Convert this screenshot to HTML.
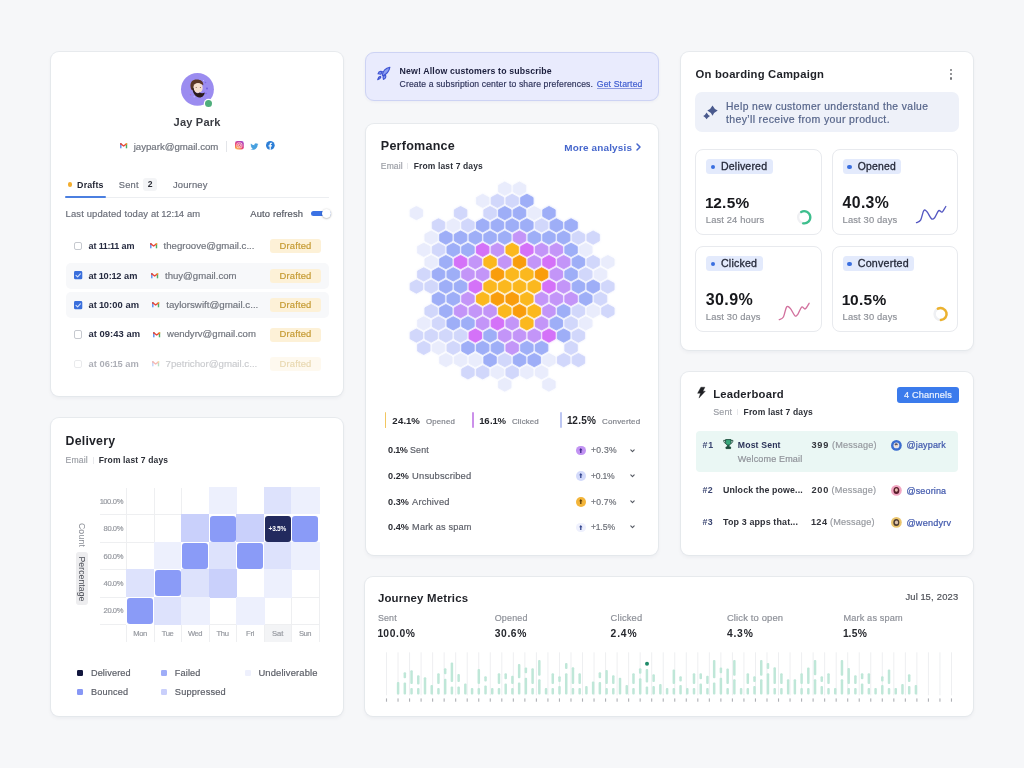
<!DOCTYPE html>
<html><head><meta charset="utf-8"><title>Dashboard</title><style>
html,body{margin:0;padding:0}
body{width:1024px;height:768px;background:#f6f7f9;position:relative;overflow:hidden;font-family:"Liberation Sans",Arial,sans-serif}
.card{position:absolute;background:#fff;border-radius:8px;box-shadow:0 0 0 1px rgba(226,229,234,.75),0 2px 4px rgba(25,35,60,.06)}
.t{position:absolute;white-space:pre;line-height:1}
.n1{margin:0 -0.05em}
.r{-webkit-text-stroke-width:0.18px}
svg{overflow:visible}
</style></head><body>
<div class="card" style="left:51px;top:52px;width:292px;height:344px;"></div>
<div class="card" style="left:51px;top:418px;width:292px;height:298px;"></div>
<div class="card" style="left:366px;top:124px;width:292px;height:431px;"></div>
<div class="card" style="left:681px;top:52px;width:292px;height:298px;"></div>
<div class="card" style="left:681px;top:372px;width:292px;height:183px;"></div>
<div class="card" style="left:365px;top:577px;width:608px;height:139px;"></div>
<div style="position:absolute;left:365px;top:52px;width:294px;height:49px;box-sizing:border-box;background:#e9ebfd;border:1px solid #cdd3f4;border-radius:9px;box-shadow:0 1px 3px rgba(60,70,160,.06)"></div>
<svg style="position:absolute;left:181.00px;top:73.00px;" width="33" height="33" viewBox="0 0 33 33">
<defs><clipPath id="avc"><circle cx="16.45" cy="16.35" r="16.45"/></clipPath></defs>
<circle cx="16.45" cy="16.35" r="16.45" fill="#9b8cf0"/>
<g clip-path="url(#avc)">
<circle cx="24.5" cy="9.5" r="0.8" fill="#7f6ce6"/><circle cx="26" cy="15.5" r="0.9" fill="#6f5cdc"/>
<circle cx="9.6" cy="21.8" r="0.8" fill="#b06fc8"/><circle cx="13.2" cy="23.8" r="0.7" fill="#c8bcff"/>
<circle cx="25" cy="20.5" r="0.8" fill="#7f6ce6"/><circle cx="22.5" cy="7.6" r="0.6" fill="#c8bcff"/>
<path d="M9.6 14.2 C8.8 9 11.8 6.6 15.6 6.6 C19.6 6.5 22.6 8.6 22.3 12.2 L20.8 11.4 C18.8 10.2 15.2 10.6 13.2 12.2 L12.2 17.6 L10.2 16.6 Z" fill="#5a3626"/>
<ellipse cx="17.0" cy="14.9" rx="4.7" ry="5.0" fill="#f4dece"/>
<path d="M11.4 14.8 C11.6 19.6 13.8 23.6 18 24.4 C21.2 24.8 23.4 22.2 23.8 19.4 C22.2 20.5 20.2 20.4 18.7 19.5 C17.5 20.5 15.4 20.4 14.3 19 C13.3 17.9 12.8 16.4 12.6 14.8 Z" fill="#2b1b1b"/>
<circle cx="15.2" cy="14.6" r="0.5" fill="#6b4a3a"/><circle cx="19.4" cy="14.6" r="0.5" fill="#6b4a3a"/>
</g></svg>
<div style="position:absolute;left:204.5px;top:99.5px;width:7.4px;height:7.4px;border-radius:50%;background:#4fae7c;box-shadow:0 0 0 1.2px #fff"></div>
<div class="t" style="left:173.55px;top:117px;font-size:11.06px;letter-spacing:0.199px;font-weight:700;color:#3a3c43;">Jay Park</div>
<svg style="position:absolute;left:120.40px;top:143.30px;" width="7.3" height="5.3" viewBox="0 0 7.3 5.3"><g opacity="1">
<rect x="0.1" y="0.5" width="1.4" height="4.8" fill="#5b8def"/>
<rect x="5.8" y="0.5" width="1.4" height="4.8" fill="#4caf6a"/>
<path d="M0.8 0.9 L3.65 3.0 L6.5 0.9" stroke="#e8493c" stroke-width="1.35" fill="none" stroke-linejoin="round" stroke-linecap="round"/>
<rect x="5.8" y="0.2" width="1.4" height="1.4" rx="0.4" fill="#f6bf26"/>
<rect x="0.1" y="0.2" width="1.4" height="1.3" rx="0.4" fill="#d23f31"/></g></svg>
<div class="t r" style="left:133.70px;top:142px;font-size:9.65px;color:#6f737c;">jaypark@gmail.com</div>
<div style="position:absolute;left:226.00px;top:140.50px;width:1.00px;height:11.00px;background:#e3e5e9;border-radius:0px;"></div>
<svg style="position:absolute;left:234.90px;top:141.30px;" width="8.8" height="8.6" viewBox="0 0 8.8 8.6"><defs><radialGradient id="ig" cx="0.15" cy="1.05" r="1.25">
<stop offset="0" stop-color="#fdd36a"/><stop offset=".3" stop-color="#f8864a"/><stop offset=".6" stop-color="#e9437c"/><stop offset="1" stop-color="#9b45cf"/></radialGradient></defs>
<rect x="0" y="0" width="8.8" height="8.6" rx="2.4" fill="url(#ig)"/>
<rect x="1.9" y="1.85" width="5.0" height="4.9" rx="1.5" fill="none" stroke="#fff" stroke-opacity=".75" stroke-width="0.85"/>
<circle cx="4.4" cy="4.3" r="1.2" fill="none" stroke="#fff" stroke-opacity=".75" stroke-width="0.85"/>
<circle cx="6.2" cy="2.6" r="0.4" fill="#fff" fill-opacity=".8"/></svg>
<svg style="position:absolute;left:250.40px;top:142.60px;" width="8.6" height="7.1" viewBox="0 2 24 20"><path fill="#47a0df" d="M23.643 4.937c-.835.37-1.732.62-2.675.733.962-.576 1.7-1.49 2.048-2.578-.9.534-1.897.922-2.958 1.13-.85-.904-2.06-1.47-3.4-1.47-2.572 0-4.658 2.086-4.658 4.66 0 .364.042.718.12 1.06-3.873-.195-7.304-2.05-9.602-4.868-.4.69-.63 1.49-.63 2.342 0 1.616.823 3.043 2.072 3.878-.764-.025-1.482-.234-2.11-.583v.06c0 2.257 1.605 4.14 3.737 4.568-.392.106-.803.162-1.227.162-.3 0-.593-.028-.877-.082.593 1.85 2.313 3.198 4.352 3.234-1.595 1.25-3.604 1.995-5.786 1.995-.376 0-.747-.022-1.112-.065 2.062 1.323 4.51 2.093 7.14 2.093 8.57 0 13.255-7.098 13.255-13.254 0-.2-.005-.402-.014-.602.91-.658 1.7-1.477 2.323-2.41z"/></svg>
<svg style="position:absolute;left:265.70px;top:141.40px;" width="8.7" height="8.7" viewBox="0 0 24 24"><circle cx="12" cy="12" r="12" fill="#2c7ed6"/><path fill="#fff" d="M13.4 24V15.2h2.95l.45-3.45h-3.4V9.55c0-1 .28-1.68 1.7-1.68h1.8V4.8c-.31-.04-1.38-.13-2.63-.13-2.6 0-4.38 1.59-4.38 4.5v2.58H6.95v3.45h2.94V24z"/></svg>
<div style="position:absolute;left:67.6px;top:182.2px;width:4.8px;height:4.8px;border-radius:50%;background:#f3ad2e"></div>
<div class="t" style="left:77.10px;top:181px;font-size:8.86px;letter-spacing:0.159px;font-weight:700;color:#1f2230;">Drafts</div>
<div class="t r" style="left:118.80px;top:181px;font-size:9.29px;letter-spacing:0.196px;color:#6b6f7a;">Sent</div>
<div style="position:absolute;left:143.40px;top:178.30px;width:13.70px;height:12.70px;background:#f3f4f6;border-radius:3px;"></div>
<div class="t" style="left:147.85px;top:180px;font-size:8.60px;font-weight:700;color:#2c2f38;">2</div>
<div class="t r" style="left:172.90px;top:180px;font-size:9.43px;letter-spacing:0.175px;color:#6b6f7a;">Journey</div>
<div style="position:absolute;left:65.20px;top:196.60px;width:263.80px;height:1.00px;background:#eceef1;border-radius:0px;"></div>
<div style="position:absolute;left:65.20px;top:195.80px;width:41.00px;height:2.20px;background:#4b7fe0;border-radius:1px;"></div>
<div class="t r" style="left:65.60px;top:209px;font-size:9.42px;letter-spacing:0.141px;color:#6b6f7a;">Last updated today at <span class="n1">1</span>2:<span class="n1">1</span>4 am</div>
<div class="t r" style="left:250.30px;top:210px;font-size:9.38px;letter-spacing:0.146px;color:#545862;">Auto refresh</div>
<div style="position:absolute;left:311.00px;top:211.40px;width:20.00px;height:4.80px;background:#3b72e4;border-radius:3px;"></div>
<div style="position:absolute;left:321.8px;top:209.1px;width:9.2px;height:9.2px;border-radius:50%;background:#fff;box-shadow:0 0.5px 2px rgba(0,0,0,.35)"></div>
<div style="opacity:1">
<div style="position:absolute;left:73.9px;top:242.05px;width:8.4px;height:8.4px;box-sizing:border-box;border:1px solid #c6c9cf;border-radius:2px;background:#fff"></div>
<div class="t" style="left:88.40px;top:242px;font-size:9.04px;letter-spacing:0.046px;font-weight:700;color:#262b40;">at <span class="n1">1</span><span class="n1">1</span>:<span class="n1">1</span><span class="n1">1</span> am</div>
<svg style="position:absolute;left:149.60px;top:243.30px;" width="7.3" height="5.3" viewBox="0 0 7.3 5.3"><g opacity="1">
<rect x="0.1" y="0.5" width="1.4" height="4.8" fill="#5b8def"/>
<rect x="5.8" y="0.5" width="1.4" height="4.8" fill="#4caf6a"/>
<path d="M0.8 0.9 L3.65 3.0 L6.5 0.9" stroke="#e8493c" stroke-width="1.35" fill="none" stroke-linejoin="round" stroke-linecap="round"/>
<rect x="5.8" y="0.2" width="1.4" height="1.4" rx="0.4" fill="#f6bf26"/>
<rect x="0.1" y="0.2" width="1.4" height="1.3" rx="0.4" fill="#d23f31"/></g></svg>
<div class="t r" style="left:163.60px;top:241px;font-size:9.60px;color:#71757e;">thegroove@gmail.c...</div>
<div style="position:absolute;left:270.30px;top:239.15px;width:50.30px;height:14.20px;background:#fdf1d7;border-radius:3px;"></div>
<div class="t r" style="left:279.50px;top:241px;font-size:9.41px;letter-spacing:0.157px;color:#c59a32;">Drafted</div>
</div>
<div style="position:absolute;left:66.00px;top:262.85px;width:263.00px;height:26.00px;background:#f7f8fa;border-radius:5px;"></div>
<div style="opacity:1">
<svg style="position:absolute;left:73.90px;top:271.45px;" width="8.3" height="8.3" viewBox="0 0 8.3 8.3"><rect x="0" y="0" width="8.3" height="8.3" rx="1.4" fill="#3a6fdc"/><path d="M2 4.3 L3.6 5.8 L6.4 2.8" stroke="#d6e4ff" stroke-width="1.1" fill="none" stroke-linecap="round" stroke-linejoin="round"/></svg>
<div class="t" style="left:88.40px;top:272px;font-size:9.22px;letter-spacing:0.051px;font-weight:700;color:#262b40;">at <span class="n1">1</span>0:<span class="n1">1</span>2 am</div>
<svg style="position:absolute;left:150.90px;top:272.80px;" width="7.3" height="5.3" viewBox="0 0 7.3 5.3"><g opacity="1">
<rect x="0.1" y="0.5" width="1.4" height="4.8" fill="#5b8def"/>
<rect x="5.8" y="0.5" width="1.4" height="4.8" fill="#4caf6a"/>
<path d="M0.8 0.9 L3.65 3.0 L6.5 0.9" stroke="#e8493c" stroke-width="1.35" fill="none" stroke-linejoin="round" stroke-linecap="round"/>
<rect x="5.8" y="0.2" width="1.4" height="1.4" rx="0.4" fill="#f6bf26"/>
<rect x="0.1" y="0.2" width="1.4" height="1.3" rx="0.4" fill="#d23f31"/></g></svg>
<div class="t r" style="left:165.00px;top:271px;font-size:9.58px;color:#71757e;">thuy@gmail.com</div>
<div style="position:absolute;left:270.30px;top:268.65px;width:50.30px;height:14.20px;background:#fdf1d7;border-radius:3px;"></div>
<div class="t r" style="left:279.50px;top:271px;font-size:9.41px;letter-spacing:0.157px;color:#c59a32;">Drafted</div>
</div>
<div style="position:absolute;left:66.00px;top:292.35px;width:263.00px;height:26.00px;background:#f7f8fa;border-radius:5px;"></div>
<div style="opacity:1">
<svg style="position:absolute;left:73.90px;top:300.95px;" width="8.3" height="8.3" viewBox="0 0 8.3 8.3"><rect x="0" y="0" width="8.3" height="8.3" rx="1.4" fill="#3a6fdc"/><path d="M2 4.3 L3.6 5.8 L6.4 2.8" stroke="#d6e4ff" stroke-width="1.1" fill="none" stroke-linecap="round" stroke-linejoin="round"/></svg>
<div class="t" style="left:88.40px;top:300px;font-size:9.40px;letter-spacing:0.053px;font-weight:700;color:#262b40;">at <span class="n1">1</span>0:00 am</div>
<svg style="position:absolute;left:151.90px;top:302.30px;" width="7.3" height="5.3" viewBox="0 0 7.3 5.3"><g opacity="1">
<rect x="0.1" y="0.5" width="1.4" height="4.8" fill="#5b8def"/>
<rect x="5.8" y="0.5" width="1.4" height="4.8" fill="#4caf6a"/>
<path d="M0.8 0.9 L3.65 3.0 L6.5 0.9" stroke="#e8493c" stroke-width="1.35" fill="none" stroke-linejoin="round" stroke-linecap="round"/>
<rect x="5.8" y="0.2" width="1.4" height="1.4" rx="0.4" fill="#f6bf26"/>
<rect x="0.1" y="0.2" width="1.4" height="1.3" rx="0.4" fill="#d23f31"/></g></svg>
<div class="t r" style="left:166.20px;top:300px;font-size:9.74px;color:#71757e;">taylorswift@gmail.c...</div>
<div style="position:absolute;left:270.30px;top:298.15px;width:50.30px;height:14.20px;background:#fdf1d7;border-radius:3px;"></div>
<div class="t r" style="left:279.50px;top:300px;font-size:9.41px;letter-spacing:0.157px;color:#c59a32;">Drafted</div>
</div>
<div style="opacity:1">
<div style="position:absolute;left:73.9px;top:330.45px;width:8.4px;height:8.4px;box-sizing:border-box;border:1px solid #c6c9cf;border-radius:2px;background:#fff"></div>
<div class="t" style="left:88.40px;top:329px;font-size:9.41px;letter-spacing:0.054px;font-weight:700;color:#262b40;">at 09:43 am</div>
<svg style="position:absolute;left:152.90px;top:331.70px;" width="7.3" height="5.3" viewBox="0 0 7.3 5.3"><g opacity="1">
<rect x="0.1" y="0.5" width="1.4" height="4.8" fill="#5b8def"/>
<rect x="5.8" y="0.5" width="1.4" height="4.8" fill="#4caf6a"/>
<path d="M0.8 0.9 L3.65 3.0 L6.5 0.9" stroke="#e8493c" stroke-width="1.35" fill="none" stroke-linejoin="round" stroke-linecap="round"/>
<rect x="5.8" y="0.2" width="1.4" height="1.4" rx="0.4" fill="#f6bf26"/>
<rect x="0.1" y="0.2" width="1.4" height="1.3" rx="0.4" fill="#d23f31"/></g></svg>
<div class="t r" style="left:167.00px;top:329px;font-size:9.57px;color:#71757e;">wendyrv@gmail.com</div>
<div style="position:absolute;left:270.30px;top:327.55px;width:50.30px;height:14.20px;background:#fdf1d7;border-radius:3px;"></div>
<div class="t r" style="left:279.50px;top:329px;font-size:9.41px;letter-spacing:0.157px;color:#c59a32;">Drafted</div>
</div>
<div style="opacity:0.38">
<div style="position:absolute;left:73.9px;top:359.95px;width:8.4px;height:8.4px;box-sizing:border-box;border:1px solid #c6c9cf;border-radius:2px;background:#fff"></div>
<div class="t" style="left:88.40px;top:360px;font-size:9.33px;letter-spacing:0.050px;font-weight:700;color:#262b40;">at 06:<span class="n1">1</span>5 am</div>
<svg style="position:absolute;left:151.90px;top:361.20px;" width="7.3" height="5.3" viewBox="0 0 7.3 5.3"><g opacity="1">
<rect x="0.1" y="0.5" width="1.4" height="4.8" fill="#5b8def"/>
<rect x="5.8" y="0.5" width="1.4" height="4.8" fill="#4caf6a"/>
<path d="M0.8 0.9 L3.65 3.0 L6.5 0.9" stroke="#e8493c" stroke-width="1.35" fill="none" stroke-linejoin="round" stroke-linecap="round"/>
<rect x="5.8" y="0.2" width="1.4" height="1.4" rx="0.4" fill="#f6bf26"/>
<rect x="0.1" y="0.2" width="1.4" height="1.3" rx="0.4" fill="#d23f31"/></g></svg>
<div class="t r" style="left:165.60px;top:359px;font-size:9.70px;color:#71757e;">7petrichor@gmail.c...</div>
<div style="position:absolute;left:270.30px;top:357.05px;width:50.30px;height:14.20px;background:#fdf1d7;border-radius:3px;"></div>
<div class="t r" style="left:279.50px;top:359px;font-size:9.41px;letter-spacing:0.157px;color:#c59a32;">Drafted</div>
</div>
<div class="t" style="left:65.60px;top:435px;font-size:12.34px;letter-spacing:0.211px;font-weight:700;color:#1f2127;">Delivery</div>
<div class="t r" style="left:65.60px;top:456px;font-size:8.61px;letter-spacing:0.167px;color:#9b9ea5;">Email</div>
<div style="position:absolute;left:92.70px;top:457.20px;width:1.00px;height:6.40px;background:#e8e9ec;border-radius:0px;"></div>
<div class="t" style="left:98.75px;top:456px;font-size:8.53px;letter-spacing:0.139px;font-weight:700;color:#2d3038;">From last 7 days</div>
<div style="position:absolute;left:264.00px;top:624.50px;width:27.50px;height:17.50px;background:#f3f4f6;border-radius:0px;"></div>
<div style="position:absolute;left:126.00px;top:487.50px;width:1.00px;height:154.50px;background:#eeeff1;border-radius:0px;"></div>
<div style="position:absolute;left:153.50px;top:487.50px;width:1.00px;height:154.50px;background:#eeeff1;border-radius:0px;"></div>
<div style="position:absolute;left:181.00px;top:487.50px;width:1.00px;height:154.50px;background:#eeeff1;border-radius:0px;"></div>
<div style="position:absolute;left:208.50px;top:487.50px;width:1.00px;height:154.50px;background:#eeeff1;border-radius:0px;"></div>
<div style="position:absolute;left:236.00px;top:487.50px;width:1.00px;height:154.50px;background:#eeeff1;border-radius:0px;"></div>
<div style="position:absolute;left:263.50px;top:487.50px;width:1.00px;height:154.50px;background:#eeeff1;border-radius:0px;"></div>
<div style="position:absolute;left:291.00px;top:487.50px;width:1.00px;height:154.50px;background:#eeeff1;border-radius:0px;"></div>
<div style="position:absolute;left:318.50px;top:487.50px;width:1.00px;height:154.50px;background:#eeeff1;border-radius:0px;"></div>
<div style="position:absolute;left:99.70px;top:514.40px;width:219.80px;height:1.00px;background:#eeeff1;border-radius:0px;"></div>
<div style="position:absolute;left:99.70px;top:541.80px;width:219.80px;height:1.00px;background:#eeeff1;border-radius:0px;"></div>
<div style="position:absolute;left:99.70px;top:569.20px;width:219.80px;height:1.00px;background:#eeeff1;border-radius:0px;"></div>
<div style="position:absolute;left:99.70px;top:596.60px;width:219.80px;height:1.00px;background:#eeeff1;border-radius:0px;"></div>
<div style="position:absolute;left:99.70px;top:624.00px;width:219.80px;height:1.00px;background:#eeeff1;border-radius:0px;"></div>
<div style="position:absolute;left:208.50px;top:487.00px;width:28.50px;height:28.40px;background:#edf0fd;border-radius:0px;"></div>
<div style="position:absolute;left:263.50px;top:487.00px;width:28.50px;height:28.40px;background:#dde2fc;border-radius:0px;"></div>
<div style="position:absolute;left:291.00px;top:487.00px;width:28.50px;height:28.40px;background:#edf0fd;border-radius:0px;"></div>
<div style="position:absolute;left:181.00px;top:514.40px;width:28.50px;height:28.40px;background:#c9d0fb;border-radius:0px;"></div>
<div style="position:absolute;left:208.50px;top:514.40px;width:28.50px;height:28.40px;background:#fff;border-radius:0px;"></div>
<div style="position:absolute;left:209.70px;top:515.60px;width:26.10px;height:26.00px;background:#8a9bf7;border-radius:3px;"></div>
<div style="position:absolute;left:236.00px;top:514.40px;width:28.50px;height:28.40px;background:#c9d0fb;border-radius:0px;"></div>
<div style="position:absolute;left:263.50px;top:514.40px;width:28.50px;height:28.40px;background:#fff;border-radius:0px;"></div>
<div style="position:absolute;left:264.70px;top:515.60px;width:26.10px;height:26.00px;background:#222a5e;border-radius:3px;"></div>
<div style="position:absolute;left:291.00px;top:514.40px;width:28.50px;height:28.40px;background:#fff;border-radius:0px;"></div>
<div style="position:absolute;left:292.20px;top:515.60px;width:26.10px;height:26.00px;background:#8a9bf7;border-radius:3px;"></div>
<div style="position:absolute;left:153.50px;top:541.80px;width:28.50px;height:28.40px;background:#edf0fd;border-radius:0px;"></div>
<div style="position:absolute;left:181.00px;top:541.80px;width:28.50px;height:28.40px;background:#fff;border-radius:0px;"></div>
<div style="position:absolute;left:182.20px;top:543.00px;width:26.10px;height:26.00px;background:#8a9bf7;border-radius:3px;"></div>
<div style="position:absolute;left:208.50px;top:541.80px;width:28.50px;height:28.40px;background:#dde2fc;border-radius:0px;"></div>
<div style="position:absolute;left:236.00px;top:541.80px;width:28.50px;height:28.40px;background:#fff;border-radius:0px;"></div>
<div style="position:absolute;left:237.20px;top:543.00px;width:26.10px;height:26.00px;background:#8a9bf7;border-radius:3px;"></div>
<div style="position:absolute;left:263.50px;top:541.80px;width:28.50px;height:28.40px;background:#dde2fc;border-radius:0px;"></div>
<div style="position:absolute;left:291.00px;top:541.80px;width:28.50px;height:28.40px;background:#edf0fd;border-radius:0px;"></div>
<div style="position:absolute;left:126.00px;top:569.20px;width:28.50px;height:28.40px;background:#dde2fc;border-radius:0px;"></div>
<div style="position:absolute;left:153.50px;top:569.20px;width:28.50px;height:28.40px;background:#fff;border-radius:0px;"></div>
<div style="position:absolute;left:154.70px;top:570.40px;width:26.10px;height:26.00px;background:#8a9bf7;border-radius:3px;"></div>
<div style="position:absolute;left:181.00px;top:569.20px;width:28.50px;height:28.40px;background:#dde2fc;border-radius:0px;"></div>
<div style="position:absolute;left:208.50px;top:569.20px;width:28.50px;height:28.40px;background:#c9d0fb;border-radius:0px;"></div>
<div style="position:absolute;left:263.50px;top:569.20px;width:28.50px;height:28.40px;background:#edf0fd;border-radius:0px;"></div>
<div style="position:absolute;left:126.00px;top:596.60px;width:28.50px;height:28.40px;background:#fff;border-radius:0px;"></div>
<div style="position:absolute;left:127.20px;top:597.80px;width:26.10px;height:26.00px;background:#8a9bf7;border-radius:3px;"></div>
<div style="position:absolute;left:153.50px;top:596.60px;width:28.50px;height:28.40px;background:#dde2fc;border-radius:0px;"></div>
<div style="position:absolute;left:181.00px;top:596.60px;width:28.50px;height:28.40px;background:#edf0fd;border-radius:0px;"></div>
<div style="position:absolute;left:236.00px;top:596.60px;width:28.50px;height:28.40px;background:#edf0fd;border-radius:0px;"></div>
<div class="t" style="left:268.60px;top:526px;font-size:6.50px;letter-spacing:-0.253px;font-weight:700;color:#ffffff;">+3.5%</div>
<div class="t r" style="left:100.10px;top:498px;font-size:7.60px;letter-spacing:-0.343px;color:#95989f;"><span class="n1">1</span>00.0%</div>
<div class="t r" style="left:103.60px;top:525px;font-size:7.60px;letter-spacing:-0.437px;color:#95989f;">80.0%</div>
<div class="t r" style="left:103.60px;top:553px;font-size:7.60px;letter-spacing:-0.437px;color:#95989f;">60.0%</div>
<div class="t r" style="left:103.60px;top:580px;font-size:7.60px;letter-spacing:-0.437px;color:#95989f;">40.0%</div>
<div class="t r" style="left:103.60px;top:607px;font-size:7.60px;letter-spacing:-0.437px;color:#95989f;">20.0%</div>
<div class="t r" style="left:133.25px;top:630px;font-size:7.60px;letter-spacing:-0.392px;color:#95989f;">Mon</div>
<div class="t r" style="left:161.65px;top:630px;font-size:7.60px;letter-spacing:-0.307px;color:#95989f;">Tue</div>
<div class="t r" style="left:187.95px;top:630px;font-size:7.60px;letter-spacing:-0.445px;color:#95989f;">Wed</div>
<div class="t r" style="left:216.45px;top:630px;font-size:7.60px;letter-spacing:-0.248px;color:#95989f;">Thu</div>
<div class="t r" style="left:245.95px;top:630px;font-size:7.60px;letter-spacing:-0.131px;color:#95989f;">Fri</div>
<div class="t r" style="left:272.05px;top:630px;font-size:7.60px;color:#95989f;">Sat</div>
<div class="t r" style="left:298.95px;top:630px;font-size:7.60px;letter-spacing:-0.462px;color:#95989f;">Sun</div>
<div style="position:absolute;left:75.80px;top:552.20px;width:12.20px;height:53.00px;background:#ededef;border-radius:3px;"></div>
<div class="t" style="left:81.9px;top:535.4px;width:0;height:0"><div style="position:absolute;left:-20px;top:-5px;width:40px;height:10px;transform:rotate(90deg);text-align:center;font-size:8.6px;line-height:10px;color:#8a8d95;letter-spacing:0.25px">Count</div></div>
<div class="t" style="left:81.9px;top:578.7px;width:0;height:0"><div style="position:absolute;left:-30px;top:-5px;width:60px;height:10px;transform:rotate(90deg);text-align:center;font-size:8.6px;line-height:10px;color:#4d5058;letter-spacing:0.1px">Percentage</div></div>
<div style="position:absolute;left:77.20px;top:669.70px;width:6.10px;height:6.10px;background:#12163d;border-radius:1.2px;"></div>
<div class="t r" style="left:90.90px;top:669px;font-size:9.14px;letter-spacing:0.149px;color:#5a5d66;">Delivered</div>
<div style="position:absolute;left:161.10px;top:669.70px;width:6.10px;height:6.10px;background:#9fadf8;border-radius:1.2px;"></div>
<div class="t r" style="left:174.80px;top:669px;font-size:9.12px;letter-spacing:0.152px;color:#5a5d66;">Failed</div>
<div style="position:absolute;left:244.70px;top:669.70px;width:6.10px;height:6.10px;background:#eef0fd;border-radius:1.2px;"></div>
<div class="t r" style="left:258.40px;top:669px;font-size:9.38px;letter-spacing:0.145px;color:#5a5d66;">Undeliverable</div>
<div style="position:absolute;left:77.20px;top:688.90px;width:6.10px;height:6.10px;background:#8797f5;border-radius:1.2px;"></div>
<div class="t r" style="left:90.90px;top:688px;font-size:9.12px;letter-spacing:0.183px;color:#5a5d66;">Bounced</div>
<div style="position:absolute;left:161.10px;top:688.90px;width:6.10px;height:6.10px;background:#c9cffb;border-radius:1.2px;"></div>
<div class="t r" style="left:174.80px;top:688px;font-size:9.25px;letter-spacing:0.170px;color:#5a5d66;">Suppressed</div>
<svg style="position:absolute;left:375.50px;top:65.50px;" width="15" height="15" viewBox="0 0 15 15"><g stroke="#3d52d2" stroke-width="1.1" stroke-linejoin="round" fill="#8c9ff2">
<path d="M6.2 9.0 C6.8 5.6 9.6 2.2 13.9 1.2 C13.2 5.4 10.2 8.4 6.9 9.7 Z"/>
<path d="M6.4 5.6 L4.6 5.4 C3.2 5.6 2.4 6.6 2.0 7.8 L4.8 8.2 Z"/>
<path d="M9.6 9.0 L9.8 10.8 C9.6 12.2 8.6 13.0 7.4 13.4 L7.0 10.6 Z"/>
<path d="M4.4 10.4 C3.2 10.6 2.2 11.6 1.7 13.6 C3.6 13.2 4.6 12.2 4.9 11.1 Z"/>
</g></svg>
<div class="t" style="left:399.60px;top:67px;font-size:8.76px;letter-spacing:0.145px;font-weight:700;color:#1c1f3d;">New! Allow customers to subscribe</div>
<div class="t r" style="left:399.60px;top:80px;font-size:8.63px;letter-spacing:0.122px;color:#30355c;">Create a subsription center to share preferences.</div>
<div class="t r" style="left:596.80px;top:80px;font-size:8.67px;letter-spacing:0.136px;color:#3d5bcf;">Get Started</div>
<div style="position:absolute;left:596.80px;top:88.40px;width:45.70px;height:0.80px;background:#8d9ae0;border-radius:0px;"></div>
<div class="t" style="left:380.80px;top:140px;font-size:12.54px;letter-spacing:0.246px;font-weight:700;color:#1f2127;">Perfomance</div>
<div class="t" style="left:564.30px;top:143px;font-size:9.93px;letter-spacing:0.168px;font-weight:700;color:#4566cc;">More analysis</div>
<svg style="position:absolute;left:635.60px;top:143.40px;" width="5" height="8" viewBox="0 0 5 8"><path d="M1 1 L4 4 L1 7" stroke="#4566cc" stroke-width="1.5" fill="none" stroke-linecap="round" stroke-linejoin="round"/></svg>
<div class="t r" style="left:380.80px;top:162px;font-size:8.50px;letter-spacing:0.161px;color:#9b9ea5;">Email</div>
<div style="position:absolute;left:407.30px;top:162.60px;width:1.00px;height:6.60px;background:#e8e9ec;border-radius:0px;"></div>
<div class="t" style="left:413.80px;top:162px;font-size:8.47px;letter-spacing:0.137px;font-weight:700;color:#2d3038;">From last 7 days</div>
<svg style="position:absolute;left:0;top:0" width="1024" height="768" viewBox="0 0 1024 768"><defs><filter id="hb" x="-5%" y="-5%" width="110%" height="110%"><feGaussianBlur stdDeviation="1.3"/></filter></defs><g filter="url(#hb)" opacity="0.55"><polygon points="504.78,182.05 510.93,185.35 510.93,191.85 504.78,195.15 498.63,191.85 498.63,185.35" fill="#e9ecfc" stroke="#e9ecfc" stroke-width="0.9" stroke-linejoin="round"/><polygon points="519.51,182.05 525.66,185.35 525.66,191.85 519.51,195.15 513.36,191.85 513.36,185.35" fill="#e9ecfc" stroke="#e9ecfc" stroke-width="0.9" stroke-linejoin="round"/><polygon points="482.69,194.30 488.84,197.60 488.84,204.10 482.69,207.40 476.54,204.10 476.54,197.60" fill="#e9ecfc" stroke="#e9ecfc" stroke-width="0.9" stroke-linejoin="round"/><polygon points="497.42,194.30 503.57,197.60 503.57,204.10 497.42,207.40 491.27,204.10 491.27,197.60" fill="#d1d7fb" stroke="#d1d7fb" stroke-width="0.9" stroke-linejoin="round"/><polygon points="512.15,194.30 518.30,197.60 518.30,204.10 512.15,207.40 506.00,204.10 506.00,197.60" fill="#d1d7fb" stroke="#d1d7fb" stroke-width="0.9" stroke-linejoin="round"/><polygon points="526.88,194.30 533.03,197.60 533.03,204.10 526.88,207.40 520.73,204.10 520.73,197.60" fill="#9eaef7" stroke="#9eaef7" stroke-width="0.9" stroke-linejoin="round"/><polygon points="416.40,206.55 422.55,209.85 422.55,216.35 416.40,219.65 410.25,216.35 410.25,209.85" fill="#e9ecfc" stroke="#e9ecfc" stroke-width="0.9" stroke-linejoin="round"/><polygon points="460.59,206.55 466.74,209.85 466.74,216.35 460.59,219.65 454.44,216.35 454.44,209.85" fill="#d1d7fb" stroke="#d1d7fb" stroke-width="0.9" stroke-linejoin="round"/><polygon points="490.05,206.55 496.20,209.85 496.20,216.35 490.05,219.65 483.90,216.35 483.90,209.85" fill="#d1d7fb" stroke="#d1d7fb" stroke-width="0.9" stroke-linejoin="round"/><polygon points="504.78,206.55 510.93,209.85 510.93,216.35 504.78,219.65 498.63,216.35 498.63,209.85" fill="#9eaef7" stroke="#9eaef7" stroke-width="0.9" stroke-linejoin="round"/><polygon points="519.51,206.55 525.66,209.85 525.66,216.35 519.51,219.65 513.36,216.35 513.36,209.85" fill="#9eaef7" stroke="#9eaef7" stroke-width="0.9" stroke-linejoin="round"/><polygon points="534.24,206.55 540.39,209.85 540.39,216.35 534.24,219.65 528.09,216.35 528.09,209.85" fill="#e9ecfc" stroke="#e9ecfc" stroke-width="0.9" stroke-linejoin="round"/><polygon points="548.97,206.55 555.12,209.85 555.12,216.35 548.97,219.65 542.82,216.35 542.82,209.85" fill="#9eaef7" stroke="#9eaef7" stroke-width="0.9" stroke-linejoin="round"/><polygon points="438.50,218.80 444.65,222.10 444.65,228.60 438.50,231.90 432.35,228.60 432.35,222.10" fill="#d1d7fb" stroke="#d1d7fb" stroke-width="0.9" stroke-linejoin="round"/><polygon points="453.23,218.80 459.38,222.10 459.38,228.60 453.23,231.90 447.08,228.60 447.08,222.10" fill="#e9ecfc" stroke="#e9ecfc" stroke-width="0.9" stroke-linejoin="round"/><polygon points="467.96,218.80 474.11,222.10 474.11,228.60 467.96,231.90 461.81,228.60 461.81,222.10" fill="#d1d7fb" stroke="#d1d7fb" stroke-width="0.9" stroke-linejoin="round"/><polygon points="482.69,218.80 488.84,222.10 488.84,228.60 482.69,231.90 476.54,228.60 476.54,222.10" fill="#9eaef7" stroke="#9eaef7" stroke-width="0.9" stroke-linejoin="round"/><polygon points="497.42,218.80 503.57,222.10 503.57,228.60 497.42,231.90 491.27,228.60 491.27,222.10" fill="#9eaef7" stroke="#9eaef7" stroke-width="0.9" stroke-linejoin="round"/><polygon points="512.15,218.80 518.30,222.10 518.30,228.60 512.15,231.90 506.00,228.60 506.00,222.10" fill="#9eaef7" stroke="#9eaef7" stroke-width="0.9" stroke-linejoin="round"/><polygon points="526.88,218.80 533.03,222.10 533.03,228.60 526.88,231.90 520.73,228.60 520.73,222.10" fill="#9eaef7" stroke="#9eaef7" stroke-width="0.9" stroke-linejoin="round"/><polygon points="541.61,218.80 547.76,222.10 547.76,228.60 541.61,231.90 535.46,228.60 535.46,222.10" fill="#d1d7fb" stroke="#d1d7fb" stroke-width="0.9" stroke-linejoin="round"/><polygon points="556.34,218.80 562.49,222.10 562.49,228.60 556.34,231.90 550.19,228.60 550.19,222.10" fill="#9eaef7" stroke="#9eaef7" stroke-width="0.9" stroke-linejoin="round"/><polygon points="571.07,218.80 577.22,222.10 577.22,228.60 571.07,231.90 564.92,228.60 564.92,222.10" fill="#9eaef7" stroke="#9eaef7" stroke-width="0.9" stroke-linejoin="round"/><polygon points="431.13,231.05 437.28,234.35 437.28,240.85 431.13,244.15 424.98,240.85 424.98,234.35" fill="#e9ecfc" stroke="#e9ecfc" stroke-width="0.9" stroke-linejoin="round"/><polygon points="445.86,231.05 452.01,234.35 452.01,240.85 445.86,244.15 439.71,240.85 439.71,234.35" fill="#9eaef7" stroke="#9eaef7" stroke-width="0.9" stroke-linejoin="round"/><polygon points="460.59,231.05 466.74,234.35 466.74,240.85 460.59,244.15 454.44,240.85 454.44,234.35" fill="#9eaef7" stroke="#9eaef7" stroke-width="0.9" stroke-linejoin="round"/><polygon points="475.32,231.05 481.47,234.35 481.47,240.85 475.32,244.15 469.17,240.85 469.17,234.35" fill="#9eaef7" stroke="#9eaef7" stroke-width="0.9" stroke-linejoin="round"/><polygon points="490.05,231.05 496.20,234.35 496.20,240.85 490.05,244.15 483.90,240.85 483.90,234.35" fill="#9eaef7" stroke="#9eaef7" stroke-width="0.9" stroke-linejoin="round"/><polygon points="504.78,231.05 510.93,234.35 510.93,240.85 504.78,244.15 498.63,240.85 498.63,234.35" fill="#9eaef7" stroke="#9eaef7" stroke-width="0.9" stroke-linejoin="round"/><polygon points="519.51,231.05 525.66,234.35 525.66,240.85 519.51,244.15 513.36,240.85 513.36,234.35" fill="#c395f8" stroke="#c395f8" stroke-width="0.9" stroke-linejoin="round"/><polygon points="534.24,231.05 540.39,234.35 540.39,240.85 534.24,244.15 528.09,240.85 528.09,234.35" fill="#9eaef7" stroke="#9eaef7" stroke-width="0.9" stroke-linejoin="round"/><polygon points="548.97,231.05 555.12,234.35 555.12,240.85 548.97,244.15 542.82,240.85 542.82,234.35" fill="#9eaef7" stroke="#9eaef7" stroke-width="0.9" stroke-linejoin="round"/><polygon points="563.70,231.05 569.85,234.35 569.85,240.85 563.70,244.15 557.55,240.85 557.55,234.35" fill="#9eaef7" stroke="#9eaef7" stroke-width="0.9" stroke-linejoin="round"/><polygon points="578.43,231.05 584.58,234.35 584.58,240.85 578.43,244.15 572.28,240.85 572.28,234.35" fill="#d1d7fb" stroke="#d1d7fb" stroke-width="0.9" stroke-linejoin="round"/><polygon points="593.16,231.05 599.31,234.35 599.31,240.85 593.16,244.15 587.01,240.85 587.01,234.35" fill="#d1d7fb" stroke="#d1d7fb" stroke-width="0.9" stroke-linejoin="round"/><polygon points="423.77,243.30 429.92,246.60 429.92,253.10 423.77,256.40 417.62,253.10 417.62,246.60" fill="#e9ecfc" stroke="#e9ecfc" stroke-width="0.9" stroke-linejoin="round"/><polygon points="438.50,243.30 444.65,246.60 444.65,253.10 438.50,256.40 432.35,253.10 432.35,246.60" fill="#d1d7fb" stroke="#d1d7fb" stroke-width="0.9" stroke-linejoin="round"/><polygon points="453.23,243.30 459.38,246.60 459.38,253.10 453.23,256.40 447.08,253.10 447.08,246.60" fill="#9eaef7" stroke="#9eaef7" stroke-width="0.9" stroke-linejoin="round"/><polygon points="467.96,243.30 474.11,246.60 474.11,253.10 467.96,256.40 461.81,253.10 461.81,246.60" fill="#9eaef7" stroke="#9eaef7" stroke-width="0.9" stroke-linejoin="round"/><polygon points="482.69,243.30 488.84,246.60 488.84,253.10 482.69,256.40 476.54,253.10 476.54,246.60" fill="#d472f8" stroke="#d472f8" stroke-width="0.9" stroke-linejoin="round"/><polygon points="497.42,243.30 503.57,246.60 503.57,253.10 497.42,256.40 491.27,253.10 491.27,246.60" fill="#c395f8" stroke="#c395f8" stroke-width="0.9" stroke-linejoin="round"/><polygon points="512.15,243.30 518.30,246.60 518.30,253.10 512.15,256.40 506.00,253.10 506.00,246.60" fill="#fbb81e" stroke="#fbb81e" stroke-width="0.9" stroke-linejoin="round"/><polygon points="526.88,243.30 533.03,246.60 533.03,253.10 526.88,256.40 520.73,253.10 520.73,246.60" fill="#d472f8" stroke="#d472f8" stroke-width="0.9" stroke-linejoin="round"/><polygon points="541.61,243.30 547.76,246.60 547.76,253.10 541.61,256.40 535.46,253.10 535.46,246.60" fill="#c395f8" stroke="#c395f8" stroke-width="0.9" stroke-linejoin="round"/><polygon points="556.34,243.30 562.49,246.60 562.49,253.10 556.34,256.40 550.19,253.10 550.19,246.60" fill="#c395f8" stroke="#c395f8" stroke-width="0.9" stroke-linejoin="round"/><polygon points="571.07,243.30 577.22,246.60 577.22,253.10 571.07,256.40 564.92,253.10 564.92,246.60" fill="#9eaef7" stroke="#9eaef7" stroke-width="0.9" stroke-linejoin="round"/><polygon points="585.80,243.30 591.95,246.60 591.95,253.10 585.80,256.40 579.65,253.10 579.65,246.60" fill="#e9ecfc" stroke="#e9ecfc" stroke-width="0.9" stroke-linejoin="round"/><polygon points="431.13,255.55 437.28,258.85 437.28,265.35 431.13,268.65 424.98,265.35 424.98,258.85" fill="#e9ecfc" stroke="#e9ecfc" stroke-width="0.9" stroke-linejoin="round"/><polygon points="445.86,255.55 452.01,258.85 452.01,265.35 445.86,268.65 439.71,265.35 439.71,258.85" fill="#9eaef7" stroke="#9eaef7" stroke-width="0.9" stroke-linejoin="round"/><polygon points="460.59,255.55 466.74,258.85 466.74,265.35 460.59,268.65 454.44,265.35 454.44,258.85" fill="#d472f8" stroke="#d472f8" stroke-width="0.9" stroke-linejoin="round"/><polygon points="475.32,255.55 481.47,258.85 481.47,265.35 475.32,268.65 469.17,265.35 469.17,258.85" fill="#c395f8" stroke="#c395f8" stroke-width="0.9" stroke-linejoin="round"/><polygon points="490.05,255.55 496.20,258.85 496.20,265.35 490.05,268.65 483.90,265.35 483.90,258.85" fill="#fbb81e" stroke="#fbb81e" stroke-width="0.9" stroke-linejoin="round"/><polygon points="504.78,255.55 510.93,258.85 510.93,265.35 504.78,268.65 498.63,265.35 498.63,258.85" fill="#c395f8" stroke="#c395f8" stroke-width="0.9" stroke-linejoin="round"/><polygon points="519.51,255.55 525.66,258.85 525.66,265.35 519.51,268.65 513.36,265.35 513.36,258.85" fill="#f99d0c" stroke="#f99d0c" stroke-width="0.9" stroke-linejoin="round"/><polygon points="534.24,255.55 540.39,258.85 540.39,265.35 534.24,268.65 528.09,265.35 528.09,258.85" fill="#c395f8" stroke="#c395f8" stroke-width="0.9" stroke-linejoin="round"/><polygon points="548.97,255.55 555.12,258.85 555.12,265.35 548.97,268.65 542.82,265.35 542.82,258.85" fill="#d472f8" stroke="#d472f8" stroke-width="0.9" stroke-linejoin="round"/><polygon points="563.70,255.55 569.85,258.85 569.85,265.35 563.70,268.65 557.55,265.35 557.55,258.85" fill="#c395f8" stroke="#c395f8" stroke-width="0.9" stroke-linejoin="round"/><polygon points="578.43,255.55 584.58,258.85 584.58,265.35 578.43,268.65 572.28,265.35 572.28,258.85" fill="#9eaef7" stroke="#9eaef7" stroke-width="0.9" stroke-linejoin="round"/><polygon points="593.16,255.55 599.31,258.85 599.31,265.35 593.16,268.65 587.01,265.35 587.01,258.85" fill="#d1d7fb" stroke="#d1d7fb" stroke-width="0.9" stroke-linejoin="round"/><polygon points="607.89,255.55 614.04,258.85 614.04,265.35 607.89,268.65 601.74,265.35 601.74,258.85" fill="#e9ecfc" stroke="#e9ecfc" stroke-width="0.9" stroke-linejoin="round"/><polygon points="423.77,267.80 429.92,271.10 429.92,277.60 423.77,280.90 417.62,277.60 417.62,271.10" fill="#d1d7fb" stroke="#d1d7fb" stroke-width="0.9" stroke-linejoin="round"/><polygon points="438.50,267.80 444.65,271.10 444.65,277.60 438.50,280.90 432.35,277.60 432.35,271.10" fill="#9eaef7" stroke="#9eaef7" stroke-width="0.9" stroke-linejoin="round"/><polygon points="453.23,267.80 459.38,271.10 459.38,277.60 453.23,280.90 447.08,277.60 447.08,271.10" fill="#9eaef7" stroke="#9eaef7" stroke-width="0.9" stroke-linejoin="round"/><polygon points="467.96,267.80 474.11,271.10 474.11,277.60 467.96,280.90 461.81,277.60 461.81,271.10" fill="#c395f8" stroke="#c395f8" stroke-width="0.9" stroke-linejoin="round"/><polygon points="482.69,267.80 488.84,271.10 488.84,277.60 482.69,280.90 476.54,277.60 476.54,271.10" fill="#c395f8" stroke="#c395f8" stroke-width="0.9" stroke-linejoin="round"/><polygon points="497.42,267.80 503.57,271.10 503.57,277.60 497.42,280.90 491.27,277.60 491.27,271.10" fill="#f99d0c" stroke="#f99d0c" stroke-width="0.9" stroke-linejoin="round"/><polygon points="512.15,267.80 518.30,271.10 518.30,277.60 512.15,280.90 506.00,277.60 506.00,271.10" fill="#fbb81e" stroke="#fbb81e" stroke-width="0.9" stroke-linejoin="round"/><polygon points="526.88,267.80 533.03,271.10 533.03,277.60 526.88,280.90 520.73,277.60 520.73,271.10" fill="#fbb81e" stroke="#fbb81e" stroke-width="0.9" stroke-linejoin="round"/><polygon points="541.61,267.80 547.76,271.10 547.76,277.60 541.61,280.90 535.46,277.60 535.46,271.10" fill="#f99d0c" stroke="#f99d0c" stroke-width="0.9" stroke-linejoin="round"/><polygon points="556.34,267.80 562.49,271.10 562.49,277.60 556.34,280.90 550.19,277.60 550.19,271.10" fill="#c395f8" stroke="#c395f8" stroke-width="0.9" stroke-linejoin="round"/><polygon points="571.07,267.80 577.22,271.10 577.22,277.60 571.07,280.90 564.92,277.60 564.92,271.10" fill="#9eaef7" stroke="#9eaef7" stroke-width="0.9" stroke-linejoin="round"/><polygon points="585.80,267.80 591.95,271.10 591.95,277.60 585.80,280.90 579.65,277.60 579.65,271.10" fill="#d1d7fb" stroke="#d1d7fb" stroke-width="0.9" stroke-linejoin="round"/><polygon points="600.53,267.80 606.68,271.10 606.68,277.60 600.53,280.90 594.38,277.60 594.38,271.10" fill="#e9ecfc" stroke="#e9ecfc" stroke-width="0.9" stroke-linejoin="round"/><polygon points="416.40,280.05 422.55,283.35 422.55,289.85 416.40,293.15 410.25,289.85 410.25,283.35" fill="#d1d7fb" stroke="#d1d7fb" stroke-width="0.9" stroke-linejoin="round"/><polygon points="431.13,280.05 437.28,283.35 437.28,289.85 431.13,293.15 424.98,289.85 424.98,283.35" fill="#d1d7fb" stroke="#d1d7fb" stroke-width="0.9" stroke-linejoin="round"/><polygon points="445.86,280.05 452.01,283.35 452.01,289.85 445.86,293.15 439.71,289.85 439.71,283.35" fill="#9eaef7" stroke="#9eaef7" stroke-width="0.9" stroke-linejoin="round"/><polygon points="460.59,280.05 466.74,283.35 466.74,289.85 460.59,293.15 454.44,289.85 454.44,283.35" fill="#9eaef7" stroke="#9eaef7" stroke-width="0.9" stroke-linejoin="round"/><polygon points="475.32,280.05 481.47,283.35 481.47,289.85 475.32,293.15 469.17,289.85 469.17,283.35" fill="#d472f8" stroke="#d472f8" stroke-width="0.9" stroke-linejoin="round"/><polygon points="490.05,280.05 496.20,283.35 496.20,289.85 490.05,293.15 483.90,289.85 483.90,283.35" fill="#fbb81e" stroke="#fbb81e" stroke-width="0.9" stroke-linejoin="round"/><polygon points="504.78,280.05 510.93,283.35 510.93,289.85 504.78,293.15 498.63,289.85 498.63,283.35" fill="#fbb81e" stroke="#fbb81e" stroke-width="0.9" stroke-linejoin="round"/><polygon points="519.51,280.05 525.66,283.35 525.66,289.85 519.51,293.15 513.36,289.85 513.36,283.35" fill="#fbb81e" stroke="#fbb81e" stroke-width="0.9" stroke-linejoin="round"/><polygon points="534.24,280.05 540.39,283.35 540.39,289.85 534.24,293.15 528.09,289.85 528.09,283.35" fill="#fbb81e" stroke="#fbb81e" stroke-width="0.9" stroke-linejoin="round"/><polygon points="548.97,280.05 555.12,283.35 555.12,289.85 548.97,293.15 542.82,289.85 542.82,283.35" fill="#d472f8" stroke="#d472f8" stroke-width="0.9" stroke-linejoin="round"/><polygon points="563.70,280.05 569.85,283.35 569.85,289.85 563.70,293.15 557.55,289.85 557.55,283.35" fill="#c395f8" stroke="#c395f8" stroke-width="0.9" stroke-linejoin="round"/><polygon points="578.43,280.05 584.58,283.35 584.58,289.85 578.43,293.15 572.28,289.85 572.28,283.35" fill="#9eaef7" stroke="#9eaef7" stroke-width="0.9" stroke-linejoin="round"/><polygon points="593.16,280.05 599.31,283.35 599.31,289.85 593.16,293.15 587.01,289.85 587.01,283.35" fill="#9eaef7" stroke="#9eaef7" stroke-width="0.9" stroke-linejoin="round"/><polygon points="607.89,280.05 614.04,283.35 614.04,289.85 607.89,293.15 601.74,289.85 601.74,283.35" fill="#d1d7fb" stroke="#d1d7fb" stroke-width="0.9" stroke-linejoin="round"/><polygon points="438.50,292.30 444.65,295.60 444.65,302.10 438.50,305.40 432.35,302.10 432.35,295.60" fill="#9eaef7" stroke="#9eaef7" stroke-width="0.9" stroke-linejoin="round"/><polygon points="453.23,292.30 459.38,295.60 459.38,302.10 453.23,305.40 447.08,302.10 447.08,295.60" fill="#9eaef7" stroke="#9eaef7" stroke-width="0.9" stroke-linejoin="round"/><polygon points="467.96,292.30 474.11,295.60 474.11,302.10 467.96,305.40 461.81,302.10 461.81,295.60" fill="#c395f8" stroke="#c395f8" stroke-width="0.9" stroke-linejoin="round"/><polygon points="482.69,292.30 488.84,295.60 488.84,302.10 482.69,305.40 476.54,302.10 476.54,295.60" fill="#fbb81e" stroke="#fbb81e" stroke-width="0.9" stroke-linejoin="round"/><polygon points="497.42,292.30 503.57,295.60 503.57,302.10 497.42,305.40 491.27,302.10 491.27,295.60" fill="#f99d0c" stroke="#f99d0c" stroke-width="0.9" stroke-linejoin="round"/><polygon points="512.15,292.30 518.30,295.60 518.30,302.10 512.15,305.40 506.00,302.10 506.00,295.60" fill="#f99d0c" stroke="#f99d0c" stroke-width="0.9" stroke-linejoin="round"/><polygon points="526.88,292.30 533.03,295.60 533.03,302.10 526.88,305.40 520.73,302.10 520.73,295.60" fill="#fbb81e" stroke="#fbb81e" stroke-width="0.9" stroke-linejoin="round"/><polygon points="541.61,292.30 547.76,295.60 547.76,302.10 541.61,305.40 535.46,302.10 535.46,295.60" fill="#c395f8" stroke="#c395f8" stroke-width="0.9" stroke-linejoin="round"/><polygon points="556.34,292.30 562.49,295.60 562.49,302.10 556.34,305.40 550.19,302.10 550.19,295.60" fill="#c395f8" stroke="#c395f8" stroke-width="0.9" stroke-linejoin="round"/><polygon points="571.07,292.30 577.22,295.60 577.22,302.10 571.07,305.40 564.92,302.10 564.92,295.60" fill="#c395f8" stroke="#c395f8" stroke-width="0.9" stroke-linejoin="round"/><polygon points="585.80,292.30 591.95,295.60 591.95,302.10 585.80,305.40 579.65,302.10 579.65,295.60" fill="#9eaef7" stroke="#9eaef7" stroke-width="0.9" stroke-linejoin="round"/><polygon points="600.53,292.30 606.68,295.60 606.68,302.10 600.53,305.40 594.38,302.10 594.38,295.60" fill="#d1d7fb" stroke="#d1d7fb" stroke-width="0.9" stroke-linejoin="round"/><polygon points="431.13,304.55 437.28,307.85 437.28,314.35 431.13,317.65 424.98,314.35 424.98,307.85" fill="#d1d7fb" stroke="#d1d7fb" stroke-width="0.9" stroke-linejoin="round"/><polygon points="445.86,304.55 452.01,307.85 452.01,314.35 445.86,317.65 439.71,314.35 439.71,307.85" fill="#9eaef7" stroke="#9eaef7" stroke-width="0.9" stroke-linejoin="round"/><polygon points="460.59,304.55 466.74,307.85 466.74,314.35 460.59,317.65 454.44,314.35 454.44,307.85" fill="#c395f8" stroke="#c395f8" stroke-width="0.9" stroke-linejoin="round"/><polygon points="475.32,304.55 481.47,307.85 481.47,314.35 475.32,317.65 469.17,314.35 469.17,307.85" fill="#c395f8" stroke="#c395f8" stroke-width="0.9" stroke-linejoin="round"/><polygon points="490.05,304.55 496.20,307.85 496.20,314.35 490.05,317.65 483.90,314.35 483.90,307.85" fill="#c395f8" stroke="#c395f8" stroke-width="0.9" stroke-linejoin="round"/><polygon points="504.78,304.55 510.93,307.85 510.93,314.35 504.78,317.65 498.63,314.35 498.63,307.85" fill="#fbb81e" stroke="#fbb81e" stroke-width="0.9" stroke-linejoin="round"/><polygon points="519.51,304.55 525.66,307.85 525.66,314.35 519.51,317.65 513.36,314.35 513.36,307.85" fill="#f99d0c" stroke="#f99d0c" stroke-width="0.9" stroke-linejoin="round"/><polygon points="534.24,304.55 540.39,307.85 540.39,314.35 534.24,317.65 528.09,314.35 528.09,307.85" fill="#fbb81e" stroke="#fbb81e" stroke-width="0.9" stroke-linejoin="round"/><polygon points="548.97,304.55 555.12,307.85 555.12,314.35 548.97,317.65 542.82,314.35 542.82,307.85" fill="#c395f8" stroke="#c395f8" stroke-width="0.9" stroke-linejoin="round"/><polygon points="563.70,304.55 569.85,307.85 569.85,314.35 563.70,317.65 557.55,314.35 557.55,307.85" fill="#9eaef7" stroke="#9eaef7" stroke-width="0.9" stroke-linejoin="round"/><polygon points="578.43,304.55 584.58,307.85 584.58,314.35 578.43,317.65 572.28,314.35 572.28,307.85" fill="#d1d7fb" stroke="#d1d7fb" stroke-width="0.9" stroke-linejoin="round"/><polygon points="593.16,304.55 599.31,307.85 599.31,314.35 593.16,317.65 587.01,314.35 587.01,307.85" fill="#e9ecfc" stroke="#e9ecfc" stroke-width="0.9" stroke-linejoin="round"/><polygon points="607.89,304.55 614.04,307.85 614.04,314.35 607.89,317.65 601.74,314.35 601.74,307.85" fill="#d1d7fb" stroke="#d1d7fb" stroke-width="0.9" stroke-linejoin="round"/><polygon points="423.77,316.80 429.92,320.10 429.92,326.60 423.77,329.90 417.62,326.60 417.62,320.10" fill="#e9ecfc" stroke="#e9ecfc" stroke-width="0.9" stroke-linejoin="round"/><polygon points="438.50,316.80 444.65,320.10 444.65,326.60 438.50,329.90 432.35,326.60 432.35,320.10" fill="#d1d7fb" stroke="#d1d7fb" stroke-width="0.9" stroke-linejoin="round"/><polygon points="453.23,316.80 459.38,320.10 459.38,326.60 453.23,329.90 447.08,326.60 447.08,320.10" fill="#9eaef7" stroke="#9eaef7" stroke-width="0.9" stroke-linejoin="round"/><polygon points="467.96,316.80 474.11,320.10 474.11,326.60 467.96,329.90 461.81,326.60 461.81,320.10" fill="#9eaef7" stroke="#9eaef7" stroke-width="0.9" stroke-linejoin="round"/><polygon points="482.69,316.80 488.84,320.10 488.84,326.60 482.69,329.90 476.54,326.60 476.54,320.10" fill="#c395f8" stroke="#c395f8" stroke-width="0.9" stroke-linejoin="round"/><polygon points="497.42,316.80 503.57,320.10 503.57,326.60 497.42,329.90 491.27,326.60 491.27,320.10" fill="#d472f8" stroke="#d472f8" stroke-width="0.9" stroke-linejoin="round"/><polygon points="512.15,316.80 518.30,320.10 518.30,326.60 512.15,329.90 506.00,326.60 506.00,320.10" fill="#c395f8" stroke="#c395f8" stroke-width="0.9" stroke-linejoin="round"/><polygon points="526.88,316.80 533.03,320.10 533.03,326.60 526.88,329.90 520.73,326.60 520.73,320.10" fill="#fbb81e" stroke="#fbb81e" stroke-width="0.9" stroke-linejoin="round"/><polygon points="541.61,316.80 547.76,320.10 547.76,326.60 541.61,329.90 535.46,326.60 535.46,320.10" fill="#c395f8" stroke="#c395f8" stroke-width="0.9" stroke-linejoin="round"/><polygon points="556.34,316.80 562.49,320.10 562.49,326.60 556.34,329.90 550.19,326.60 550.19,320.10" fill="#9eaef7" stroke="#9eaef7" stroke-width="0.9" stroke-linejoin="round"/><polygon points="571.07,316.80 577.22,320.10 577.22,326.60 571.07,329.90 564.92,326.60 564.92,320.10" fill="#d1d7fb" stroke="#d1d7fb" stroke-width="0.9" stroke-linejoin="round"/><polygon points="585.80,316.80 591.95,320.10 591.95,326.60 585.80,329.90 579.65,326.60 579.65,320.10" fill="#e9ecfc" stroke="#e9ecfc" stroke-width="0.9" stroke-linejoin="round"/><polygon points="416.40,329.05 422.55,332.35 422.55,338.85 416.40,342.15 410.25,338.85 410.25,332.35" fill="#d1d7fb" stroke="#d1d7fb" stroke-width="0.9" stroke-linejoin="round"/><polygon points="431.13,329.05 437.28,332.35 437.28,338.85 431.13,342.15 424.98,338.85 424.98,332.35" fill="#d1d7fb" stroke="#d1d7fb" stroke-width="0.9" stroke-linejoin="round"/><polygon points="445.86,329.05 452.01,332.35 452.01,338.85 445.86,342.15 439.71,338.85 439.71,332.35" fill="#d1d7fb" stroke="#d1d7fb" stroke-width="0.9" stroke-linejoin="round"/><polygon points="460.59,329.05 466.74,332.35 466.74,338.85 460.59,342.15 454.44,338.85 454.44,332.35" fill="#d1d7fb" stroke="#d1d7fb" stroke-width="0.9" stroke-linejoin="round"/><polygon points="475.32,329.05 481.47,332.35 481.47,338.85 475.32,342.15 469.17,338.85 469.17,332.35" fill="#d472f8" stroke="#d472f8" stroke-width="0.9" stroke-linejoin="round"/><polygon points="490.05,329.05 496.20,332.35 496.20,338.85 490.05,342.15 483.90,338.85 483.90,332.35" fill="#9eaef7" stroke="#9eaef7" stroke-width="0.9" stroke-linejoin="round"/><polygon points="504.78,329.05 510.93,332.35 510.93,338.85 504.78,342.15 498.63,338.85 498.63,332.35" fill="#c395f8" stroke="#c395f8" stroke-width="0.9" stroke-linejoin="round"/><polygon points="519.51,329.05 525.66,332.35 525.66,338.85 519.51,342.15 513.36,338.85 513.36,332.35" fill="#c395f8" stroke="#c395f8" stroke-width="0.9" stroke-linejoin="round"/><polygon points="534.24,329.05 540.39,332.35 540.39,338.85 534.24,342.15 528.09,338.85 528.09,332.35" fill="#c395f8" stroke="#c395f8" stroke-width="0.9" stroke-linejoin="round"/><polygon points="548.97,329.05 555.12,332.35 555.12,338.85 548.97,342.15 542.82,338.85 542.82,332.35" fill="#d472f8" stroke="#d472f8" stroke-width="0.9" stroke-linejoin="round"/><polygon points="563.70,329.05 569.85,332.35 569.85,338.85 563.70,342.15 557.55,338.85 557.55,332.35" fill="#9eaef7" stroke="#9eaef7" stroke-width="0.9" stroke-linejoin="round"/><polygon points="578.43,329.05 584.58,332.35 584.58,338.85 578.43,342.15 572.28,338.85 572.28,332.35" fill="#d1d7fb" stroke="#d1d7fb" stroke-width="0.9" stroke-linejoin="round"/><polygon points="423.77,341.30 429.92,344.60 429.92,351.10 423.77,354.40 417.62,351.10 417.62,344.60" fill="#d1d7fb" stroke="#d1d7fb" stroke-width="0.9" stroke-linejoin="round"/><polygon points="438.50,341.30 444.65,344.60 444.65,351.10 438.50,354.40 432.35,351.10 432.35,344.60" fill="#e9ecfc" stroke="#e9ecfc" stroke-width="0.9" stroke-linejoin="round"/><polygon points="453.23,341.30 459.38,344.60 459.38,351.10 453.23,354.40 447.08,351.10 447.08,344.60" fill="#d1d7fb" stroke="#d1d7fb" stroke-width="0.9" stroke-linejoin="round"/><polygon points="467.96,341.30 474.11,344.60 474.11,351.10 467.96,354.40 461.81,351.10 461.81,344.60" fill="#9eaef7" stroke="#9eaef7" stroke-width="0.9" stroke-linejoin="round"/><polygon points="482.69,341.30 488.84,344.60 488.84,351.10 482.69,354.40 476.54,351.10 476.54,344.60" fill="#9eaef7" stroke="#9eaef7" stroke-width="0.9" stroke-linejoin="round"/><polygon points="497.42,341.30 503.57,344.60 503.57,351.10 497.42,354.40 491.27,351.10 491.27,344.60" fill="#9eaef7" stroke="#9eaef7" stroke-width="0.9" stroke-linejoin="round"/><polygon points="512.15,341.30 518.30,344.60 518.30,351.10 512.15,354.40 506.00,351.10 506.00,344.60" fill="#c395f8" stroke="#c395f8" stroke-width="0.9" stroke-linejoin="round"/><polygon points="526.88,341.30 533.03,344.60 533.03,351.10 526.88,354.40 520.73,351.10 520.73,344.60" fill="#9eaef7" stroke="#9eaef7" stroke-width="0.9" stroke-linejoin="round"/><polygon points="541.61,341.30 547.76,344.60 547.76,351.10 541.61,354.40 535.46,351.10 535.46,344.60" fill="#9eaef7" stroke="#9eaef7" stroke-width="0.9" stroke-linejoin="round"/><polygon points="571.07,341.30 577.22,344.60 577.22,351.10 571.07,354.40 564.92,351.10 564.92,344.60" fill="#d1d7fb" stroke="#d1d7fb" stroke-width="0.9" stroke-linejoin="round"/><polygon points="445.86,353.55 452.01,356.85 452.01,363.35 445.86,366.65 439.71,363.35 439.71,356.85" fill="#e9ecfc" stroke="#e9ecfc" stroke-width="0.9" stroke-linejoin="round"/><polygon points="460.59,353.55 466.74,356.85 466.74,363.35 460.59,366.65 454.44,363.35 454.44,356.85" fill="#e9ecfc" stroke="#e9ecfc" stroke-width="0.9" stroke-linejoin="round"/><polygon points="475.32,353.55 481.47,356.85 481.47,363.35 475.32,366.65 469.17,363.35 469.17,356.85" fill="#e9ecfc" stroke="#e9ecfc" stroke-width="0.9" stroke-linejoin="round"/><polygon points="490.05,353.55 496.20,356.85 496.20,363.35 490.05,366.65 483.90,363.35 483.90,356.85" fill="#9eaef7" stroke="#9eaef7" stroke-width="0.9" stroke-linejoin="round"/><polygon points="504.78,353.55 510.93,356.85 510.93,363.35 504.78,366.65 498.63,363.35 498.63,356.85" fill="#d1d7fb" stroke="#d1d7fb" stroke-width="0.9" stroke-linejoin="round"/><polygon points="519.51,353.55 525.66,356.85 525.66,363.35 519.51,366.65 513.36,363.35 513.36,356.85" fill="#9eaef7" stroke="#9eaef7" stroke-width="0.9" stroke-linejoin="round"/><polygon points="534.24,353.55 540.39,356.85 540.39,363.35 534.24,366.65 528.09,363.35 528.09,356.85" fill="#9eaef7" stroke="#9eaef7" stroke-width="0.9" stroke-linejoin="round"/><polygon points="548.97,353.55 555.12,356.85 555.12,363.35 548.97,366.65 542.82,363.35 542.82,356.85" fill="#e9ecfc" stroke="#e9ecfc" stroke-width="0.9" stroke-linejoin="round"/><polygon points="563.70,353.55 569.85,356.85 569.85,363.35 563.70,366.65 557.55,363.35 557.55,356.85" fill="#d1d7fb" stroke="#d1d7fb" stroke-width="0.9" stroke-linejoin="round"/><polygon points="578.43,353.55 584.58,356.85 584.58,363.35 578.43,366.65 572.28,363.35 572.28,356.85" fill="#d1d7fb" stroke="#d1d7fb" stroke-width="0.9" stroke-linejoin="round"/><polygon points="467.96,365.80 474.11,369.10 474.11,375.60 467.96,378.90 461.81,375.60 461.81,369.10" fill="#d1d7fb" stroke="#d1d7fb" stroke-width="0.9" stroke-linejoin="round"/><polygon points="482.69,365.80 488.84,369.10 488.84,375.60 482.69,378.90 476.54,375.60 476.54,369.10" fill="#d1d7fb" stroke="#d1d7fb" stroke-width="0.9" stroke-linejoin="round"/><polygon points="497.42,365.80 503.57,369.10 503.57,375.60 497.42,378.90 491.27,375.60 491.27,369.10" fill="#e9ecfc" stroke="#e9ecfc" stroke-width="0.9" stroke-linejoin="round"/><polygon points="512.15,365.80 518.30,369.10 518.30,375.60 512.15,378.90 506.00,375.60 506.00,369.10" fill="#d1d7fb" stroke="#d1d7fb" stroke-width="0.9" stroke-linejoin="round"/><polygon points="526.88,365.80 533.03,369.10 533.03,375.60 526.88,378.90 520.73,375.60 520.73,369.10" fill="#e9ecfc" stroke="#e9ecfc" stroke-width="0.9" stroke-linejoin="round"/><polygon points="541.61,365.80 547.76,369.10 547.76,375.60 541.61,378.90 535.46,375.60 535.46,369.10" fill="#e9ecfc" stroke="#e9ecfc" stroke-width="0.9" stroke-linejoin="round"/><polygon points="504.78,378.05 510.93,381.35 510.93,387.85 504.78,391.15 498.63,387.85 498.63,381.35" fill="#e9ecfc" stroke="#e9ecfc" stroke-width="0.9" stroke-linejoin="round"/><polygon points="548.97,378.05 555.12,381.35 555.12,387.85 548.97,391.15 542.82,387.85 542.82,381.35" fill="#e9ecfc" stroke="#e9ecfc" stroke-width="0.9" stroke-linejoin="round"/></g><polygon points="504.78,182.05 510.93,185.35 510.93,191.85 504.78,195.15 498.63,191.85 498.63,185.35" fill="#e9ecfc" stroke="#e9ecfc" stroke-width="0.9" stroke-linejoin="round"/><polygon points="519.51,182.05 525.66,185.35 525.66,191.85 519.51,195.15 513.36,191.85 513.36,185.35" fill="#e9ecfc" stroke="#e9ecfc" stroke-width="0.9" stroke-linejoin="round"/><polygon points="482.69,194.30 488.84,197.60 488.84,204.10 482.69,207.40 476.54,204.10 476.54,197.60" fill="#e9ecfc" stroke="#e9ecfc" stroke-width="0.9" stroke-linejoin="round"/><polygon points="497.42,194.30 503.57,197.60 503.57,204.10 497.42,207.40 491.27,204.10 491.27,197.60" fill="#d1d7fb" stroke="#d1d7fb" stroke-width="0.9" stroke-linejoin="round"/><polygon points="512.15,194.30 518.30,197.60 518.30,204.10 512.15,207.40 506.00,204.10 506.00,197.60" fill="#d1d7fb" stroke="#d1d7fb" stroke-width="0.9" stroke-linejoin="round"/><polygon points="526.88,194.30 533.03,197.60 533.03,204.10 526.88,207.40 520.73,204.10 520.73,197.60" fill="#9eaef7" stroke="#9eaef7" stroke-width="0.9" stroke-linejoin="round"/><polygon points="416.40,206.55 422.55,209.85 422.55,216.35 416.40,219.65 410.25,216.35 410.25,209.85" fill="#e9ecfc" stroke="#e9ecfc" stroke-width="0.9" stroke-linejoin="round"/><polygon points="460.59,206.55 466.74,209.85 466.74,216.35 460.59,219.65 454.44,216.35 454.44,209.85" fill="#d1d7fb" stroke="#d1d7fb" stroke-width="0.9" stroke-linejoin="round"/><polygon points="490.05,206.55 496.20,209.85 496.20,216.35 490.05,219.65 483.90,216.35 483.90,209.85" fill="#d1d7fb" stroke="#d1d7fb" stroke-width="0.9" stroke-linejoin="round"/><polygon points="504.78,206.55 510.93,209.85 510.93,216.35 504.78,219.65 498.63,216.35 498.63,209.85" fill="#9eaef7" stroke="#9eaef7" stroke-width="0.9" stroke-linejoin="round"/><polygon points="519.51,206.55 525.66,209.85 525.66,216.35 519.51,219.65 513.36,216.35 513.36,209.85" fill="#9eaef7" stroke="#9eaef7" stroke-width="0.9" stroke-linejoin="round"/><polygon points="534.24,206.55 540.39,209.85 540.39,216.35 534.24,219.65 528.09,216.35 528.09,209.85" fill="#e9ecfc" stroke="#e9ecfc" stroke-width="0.9" stroke-linejoin="round"/><polygon points="548.97,206.55 555.12,209.85 555.12,216.35 548.97,219.65 542.82,216.35 542.82,209.85" fill="#9eaef7" stroke="#9eaef7" stroke-width="0.9" stroke-linejoin="round"/><polygon points="438.50,218.80 444.65,222.10 444.65,228.60 438.50,231.90 432.35,228.60 432.35,222.10" fill="#d1d7fb" stroke="#d1d7fb" stroke-width="0.9" stroke-linejoin="round"/><polygon points="453.23,218.80 459.38,222.10 459.38,228.60 453.23,231.90 447.08,228.60 447.08,222.10" fill="#e9ecfc" stroke="#e9ecfc" stroke-width="0.9" stroke-linejoin="round"/><polygon points="467.96,218.80 474.11,222.10 474.11,228.60 467.96,231.90 461.81,228.60 461.81,222.10" fill="#d1d7fb" stroke="#d1d7fb" stroke-width="0.9" stroke-linejoin="round"/><polygon points="482.69,218.80 488.84,222.10 488.84,228.60 482.69,231.90 476.54,228.60 476.54,222.10" fill="#9eaef7" stroke="#9eaef7" stroke-width="0.9" stroke-linejoin="round"/><polygon points="497.42,218.80 503.57,222.10 503.57,228.60 497.42,231.90 491.27,228.60 491.27,222.10" fill="#9eaef7" stroke="#9eaef7" stroke-width="0.9" stroke-linejoin="round"/><polygon points="512.15,218.80 518.30,222.10 518.30,228.60 512.15,231.90 506.00,228.60 506.00,222.10" fill="#9eaef7" stroke="#9eaef7" stroke-width="0.9" stroke-linejoin="round"/><polygon points="526.88,218.80 533.03,222.10 533.03,228.60 526.88,231.90 520.73,228.60 520.73,222.10" fill="#9eaef7" stroke="#9eaef7" stroke-width="0.9" stroke-linejoin="round"/><polygon points="541.61,218.80 547.76,222.10 547.76,228.60 541.61,231.90 535.46,228.60 535.46,222.10" fill="#d1d7fb" stroke="#d1d7fb" stroke-width="0.9" stroke-linejoin="round"/><polygon points="556.34,218.80 562.49,222.10 562.49,228.60 556.34,231.90 550.19,228.60 550.19,222.10" fill="#9eaef7" stroke="#9eaef7" stroke-width="0.9" stroke-linejoin="round"/><polygon points="571.07,218.80 577.22,222.10 577.22,228.60 571.07,231.90 564.92,228.60 564.92,222.10" fill="#9eaef7" stroke="#9eaef7" stroke-width="0.9" stroke-linejoin="round"/><polygon points="431.13,231.05 437.28,234.35 437.28,240.85 431.13,244.15 424.98,240.85 424.98,234.35" fill="#e9ecfc" stroke="#e9ecfc" stroke-width="0.9" stroke-linejoin="round"/><polygon points="445.86,231.05 452.01,234.35 452.01,240.85 445.86,244.15 439.71,240.85 439.71,234.35" fill="#9eaef7" stroke="#9eaef7" stroke-width="0.9" stroke-linejoin="round"/><polygon points="460.59,231.05 466.74,234.35 466.74,240.85 460.59,244.15 454.44,240.85 454.44,234.35" fill="#9eaef7" stroke="#9eaef7" stroke-width="0.9" stroke-linejoin="round"/><polygon points="475.32,231.05 481.47,234.35 481.47,240.85 475.32,244.15 469.17,240.85 469.17,234.35" fill="#9eaef7" stroke="#9eaef7" stroke-width="0.9" stroke-linejoin="round"/><polygon points="490.05,231.05 496.20,234.35 496.20,240.85 490.05,244.15 483.90,240.85 483.90,234.35" fill="#9eaef7" stroke="#9eaef7" stroke-width="0.9" stroke-linejoin="round"/><polygon points="504.78,231.05 510.93,234.35 510.93,240.85 504.78,244.15 498.63,240.85 498.63,234.35" fill="#9eaef7" stroke="#9eaef7" stroke-width="0.9" stroke-linejoin="round"/><polygon points="519.51,231.05 525.66,234.35 525.66,240.85 519.51,244.15 513.36,240.85 513.36,234.35" fill="#c395f8" stroke="#c395f8" stroke-width="0.9" stroke-linejoin="round"/><polygon points="534.24,231.05 540.39,234.35 540.39,240.85 534.24,244.15 528.09,240.85 528.09,234.35" fill="#9eaef7" stroke="#9eaef7" stroke-width="0.9" stroke-linejoin="round"/><polygon points="548.97,231.05 555.12,234.35 555.12,240.85 548.97,244.15 542.82,240.85 542.82,234.35" fill="#9eaef7" stroke="#9eaef7" stroke-width="0.9" stroke-linejoin="round"/><polygon points="563.70,231.05 569.85,234.35 569.85,240.85 563.70,244.15 557.55,240.85 557.55,234.35" fill="#9eaef7" stroke="#9eaef7" stroke-width="0.9" stroke-linejoin="round"/><polygon points="578.43,231.05 584.58,234.35 584.58,240.85 578.43,244.15 572.28,240.85 572.28,234.35" fill="#d1d7fb" stroke="#d1d7fb" stroke-width="0.9" stroke-linejoin="round"/><polygon points="593.16,231.05 599.31,234.35 599.31,240.85 593.16,244.15 587.01,240.85 587.01,234.35" fill="#d1d7fb" stroke="#d1d7fb" stroke-width="0.9" stroke-linejoin="round"/><polygon points="423.77,243.30 429.92,246.60 429.92,253.10 423.77,256.40 417.62,253.10 417.62,246.60" fill="#e9ecfc" stroke="#e9ecfc" stroke-width="0.9" stroke-linejoin="round"/><polygon points="438.50,243.30 444.65,246.60 444.65,253.10 438.50,256.40 432.35,253.10 432.35,246.60" fill="#d1d7fb" stroke="#d1d7fb" stroke-width="0.9" stroke-linejoin="round"/><polygon points="453.23,243.30 459.38,246.60 459.38,253.10 453.23,256.40 447.08,253.10 447.08,246.60" fill="#9eaef7" stroke="#9eaef7" stroke-width="0.9" stroke-linejoin="round"/><polygon points="467.96,243.30 474.11,246.60 474.11,253.10 467.96,256.40 461.81,253.10 461.81,246.60" fill="#9eaef7" stroke="#9eaef7" stroke-width="0.9" stroke-linejoin="round"/><polygon points="482.69,243.30 488.84,246.60 488.84,253.10 482.69,256.40 476.54,253.10 476.54,246.60" fill="#d472f8" stroke="#d472f8" stroke-width="0.9" stroke-linejoin="round"/><polygon points="497.42,243.30 503.57,246.60 503.57,253.10 497.42,256.40 491.27,253.10 491.27,246.60" fill="#c395f8" stroke="#c395f8" stroke-width="0.9" stroke-linejoin="round"/><polygon points="512.15,243.30 518.30,246.60 518.30,253.10 512.15,256.40 506.00,253.10 506.00,246.60" fill="#fbb81e" stroke="#fbb81e" stroke-width="0.9" stroke-linejoin="round"/><polygon points="526.88,243.30 533.03,246.60 533.03,253.10 526.88,256.40 520.73,253.10 520.73,246.60" fill="#d472f8" stroke="#d472f8" stroke-width="0.9" stroke-linejoin="round"/><polygon points="541.61,243.30 547.76,246.60 547.76,253.10 541.61,256.40 535.46,253.10 535.46,246.60" fill="#c395f8" stroke="#c395f8" stroke-width="0.9" stroke-linejoin="round"/><polygon points="556.34,243.30 562.49,246.60 562.49,253.10 556.34,256.40 550.19,253.10 550.19,246.60" fill="#c395f8" stroke="#c395f8" stroke-width="0.9" stroke-linejoin="round"/><polygon points="571.07,243.30 577.22,246.60 577.22,253.10 571.07,256.40 564.92,253.10 564.92,246.60" fill="#9eaef7" stroke="#9eaef7" stroke-width="0.9" stroke-linejoin="round"/><polygon points="585.80,243.30 591.95,246.60 591.95,253.10 585.80,256.40 579.65,253.10 579.65,246.60" fill="#e9ecfc" stroke="#e9ecfc" stroke-width="0.9" stroke-linejoin="round"/><polygon points="431.13,255.55 437.28,258.85 437.28,265.35 431.13,268.65 424.98,265.35 424.98,258.85" fill="#e9ecfc" stroke="#e9ecfc" stroke-width="0.9" stroke-linejoin="round"/><polygon points="445.86,255.55 452.01,258.85 452.01,265.35 445.86,268.65 439.71,265.35 439.71,258.85" fill="#9eaef7" stroke="#9eaef7" stroke-width="0.9" stroke-linejoin="round"/><polygon points="460.59,255.55 466.74,258.85 466.74,265.35 460.59,268.65 454.44,265.35 454.44,258.85" fill="#d472f8" stroke="#d472f8" stroke-width="0.9" stroke-linejoin="round"/><polygon points="475.32,255.55 481.47,258.85 481.47,265.35 475.32,268.65 469.17,265.35 469.17,258.85" fill="#c395f8" stroke="#c395f8" stroke-width="0.9" stroke-linejoin="round"/><polygon points="490.05,255.55 496.20,258.85 496.20,265.35 490.05,268.65 483.90,265.35 483.90,258.85" fill="#fbb81e" stroke="#fbb81e" stroke-width="0.9" stroke-linejoin="round"/><polygon points="504.78,255.55 510.93,258.85 510.93,265.35 504.78,268.65 498.63,265.35 498.63,258.85" fill="#c395f8" stroke="#c395f8" stroke-width="0.9" stroke-linejoin="round"/><polygon points="519.51,255.55 525.66,258.85 525.66,265.35 519.51,268.65 513.36,265.35 513.36,258.85" fill="#f99d0c" stroke="#f99d0c" stroke-width="0.9" stroke-linejoin="round"/><polygon points="534.24,255.55 540.39,258.85 540.39,265.35 534.24,268.65 528.09,265.35 528.09,258.85" fill="#c395f8" stroke="#c395f8" stroke-width="0.9" stroke-linejoin="round"/><polygon points="548.97,255.55 555.12,258.85 555.12,265.35 548.97,268.65 542.82,265.35 542.82,258.85" fill="#d472f8" stroke="#d472f8" stroke-width="0.9" stroke-linejoin="round"/><polygon points="563.70,255.55 569.85,258.85 569.85,265.35 563.70,268.65 557.55,265.35 557.55,258.85" fill="#c395f8" stroke="#c395f8" stroke-width="0.9" stroke-linejoin="round"/><polygon points="578.43,255.55 584.58,258.85 584.58,265.35 578.43,268.65 572.28,265.35 572.28,258.85" fill="#9eaef7" stroke="#9eaef7" stroke-width="0.9" stroke-linejoin="round"/><polygon points="593.16,255.55 599.31,258.85 599.31,265.35 593.16,268.65 587.01,265.35 587.01,258.85" fill="#d1d7fb" stroke="#d1d7fb" stroke-width="0.9" stroke-linejoin="round"/><polygon points="607.89,255.55 614.04,258.85 614.04,265.35 607.89,268.65 601.74,265.35 601.74,258.85" fill="#e9ecfc" stroke="#e9ecfc" stroke-width="0.9" stroke-linejoin="round"/><polygon points="423.77,267.80 429.92,271.10 429.92,277.60 423.77,280.90 417.62,277.60 417.62,271.10" fill="#d1d7fb" stroke="#d1d7fb" stroke-width="0.9" stroke-linejoin="round"/><polygon points="438.50,267.80 444.65,271.10 444.65,277.60 438.50,280.90 432.35,277.60 432.35,271.10" fill="#9eaef7" stroke="#9eaef7" stroke-width="0.9" stroke-linejoin="round"/><polygon points="453.23,267.80 459.38,271.10 459.38,277.60 453.23,280.90 447.08,277.60 447.08,271.10" fill="#9eaef7" stroke="#9eaef7" stroke-width="0.9" stroke-linejoin="round"/><polygon points="467.96,267.80 474.11,271.10 474.11,277.60 467.96,280.90 461.81,277.60 461.81,271.10" fill="#c395f8" stroke="#c395f8" stroke-width="0.9" stroke-linejoin="round"/><polygon points="482.69,267.80 488.84,271.10 488.84,277.60 482.69,280.90 476.54,277.60 476.54,271.10" fill="#c395f8" stroke="#c395f8" stroke-width="0.9" stroke-linejoin="round"/><polygon points="497.42,267.80 503.57,271.10 503.57,277.60 497.42,280.90 491.27,277.60 491.27,271.10" fill="#f99d0c" stroke="#f99d0c" stroke-width="0.9" stroke-linejoin="round"/><polygon points="512.15,267.80 518.30,271.10 518.30,277.60 512.15,280.90 506.00,277.60 506.00,271.10" fill="#fbb81e" stroke="#fbb81e" stroke-width="0.9" stroke-linejoin="round"/><polygon points="526.88,267.80 533.03,271.10 533.03,277.60 526.88,280.90 520.73,277.60 520.73,271.10" fill="#fbb81e" stroke="#fbb81e" stroke-width="0.9" stroke-linejoin="round"/><polygon points="541.61,267.80 547.76,271.10 547.76,277.60 541.61,280.90 535.46,277.60 535.46,271.10" fill="#f99d0c" stroke="#f99d0c" stroke-width="0.9" stroke-linejoin="round"/><polygon points="556.34,267.80 562.49,271.10 562.49,277.60 556.34,280.90 550.19,277.60 550.19,271.10" fill="#c395f8" stroke="#c395f8" stroke-width="0.9" stroke-linejoin="round"/><polygon points="571.07,267.80 577.22,271.10 577.22,277.60 571.07,280.90 564.92,277.60 564.92,271.10" fill="#9eaef7" stroke="#9eaef7" stroke-width="0.9" stroke-linejoin="round"/><polygon points="585.80,267.80 591.95,271.10 591.95,277.60 585.80,280.90 579.65,277.60 579.65,271.10" fill="#d1d7fb" stroke="#d1d7fb" stroke-width="0.9" stroke-linejoin="round"/><polygon points="600.53,267.80 606.68,271.10 606.68,277.60 600.53,280.90 594.38,277.60 594.38,271.10" fill="#e9ecfc" stroke="#e9ecfc" stroke-width="0.9" stroke-linejoin="round"/><polygon points="416.40,280.05 422.55,283.35 422.55,289.85 416.40,293.15 410.25,289.85 410.25,283.35" fill="#d1d7fb" stroke="#d1d7fb" stroke-width="0.9" stroke-linejoin="round"/><polygon points="431.13,280.05 437.28,283.35 437.28,289.85 431.13,293.15 424.98,289.85 424.98,283.35" fill="#d1d7fb" stroke="#d1d7fb" stroke-width="0.9" stroke-linejoin="round"/><polygon points="445.86,280.05 452.01,283.35 452.01,289.85 445.86,293.15 439.71,289.85 439.71,283.35" fill="#9eaef7" stroke="#9eaef7" stroke-width="0.9" stroke-linejoin="round"/><polygon points="460.59,280.05 466.74,283.35 466.74,289.85 460.59,293.15 454.44,289.85 454.44,283.35" fill="#9eaef7" stroke="#9eaef7" stroke-width="0.9" stroke-linejoin="round"/><polygon points="475.32,280.05 481.47,283.35 481.47,289.85 475.32,293.15 469.17,289.85 469.17,283.35" fill="#d472f8" stroke="#d472f8" stroke-width="0.9" stroke-linejoin="round"/><polygon points="490.05,280.05 496.20,283.35 496.20,289.85 490.05,293.15 483.90,289.85 483.90,283.35" fill="#fbb81e" stroke="#fbb81e" stroke-width="0.9" stroke-linejoin="round"/><polygon points="504.78,280.05 510.93,283.35 510.93,289.85 504.78,293.15 498.63,289.85 498.63,283.35" fill="#fbb81e" stroke="#fbb81e" stroke-width="0.9" stroke-linejoin="round"/><polygon points="519.51,280.05 525.66,283.35 525.66,289.85 519.51,293.15 513.36,289.85 513.36,283.35" fill="#fbb81e" stroke="#fbb81e" stroke-width="0.9" stroke-linejoin="round"/><polygon points="534.24,280.05 540.39,283.35 540.39,289.85 534.24,293.15 528.09,289.85 528.09,283.35" fill="#fbb81e" stroke="#fbb81e" stroke-width="0.9" stroke-linejoin="round"/><polygon points="548.97,280.05 555.12,283.35 555.12,289.85 548.97,293.15 542.82,289.85 542.82,283.35" fill="#d472f8" stroke="#d472f8" stroke-width="0.9" stroke-linejoin="round"/><polygon points="563.70,280.05 569.85,283.35 569.85,289.85 563.70,293.15 557.55,289.85 557.55,283.35" fill="#c395f8" stroke="#c395f8" stroke-width="0.9" stroke-linejoin="round"/><polygon points="578.43,280.05 584.58,283.35 584.58,289.85 578.43,293.15 572.28,289.85 572.28,283.35" fill="#9eaef7" stroke="#9eaef7" stroke-width="0.9" stroke-linejoin="round"/><polygon points="593.16,280.05 599.31,283.35 599.31,289.85 593.16,293.15 587.01,289.85 587.01,283.35" fill="#9eaef7" stroke="#9eaef7" stroke-width="0.9" stroke-linejoin="round"/><polygon points="607.89,280.05 614.04,283.35 614.04,289.85 607.89,293.15 601.74,289.85 601.74,283.35" fill="#d1d7fb" stroke="#d1d7fb" stroke-width="0.9" stroke-linejoin="round"/><polygon points="438.50,292.30 444.65,295.60 444.65,302.10 438.50,305.40 432.35,302.10 432.35,295.60" fill="#9eaef7" stroke="#9eaef7" stroke-width="0.9" stroke-linejoin="round"/><polygon points="453.23,292.30 459.38,295.60 459.38,302.10 453.23,305.40 447.08,302.10 447.08,295.60" fill="#9eaef7" stroke="#9eaef7" stroke-width="0.9" stroke-linejoin="round"/><polygon points="467.96,292.30 474.11,295.60 474.11,302.10 467.96,305.40 461.81,302.10 461.81,295.60" fill="#c395f8" stroke="#c395f8" stroke-width="0.9" stroke-linejoin="round"/><polygon points="482.69,292.30 488.84,295.60 488.84,302.10 482.69,305.40 476.54,302.10 476.54,295.60" fill="#fbb81e" stroke="#fbb81e" stroke-width="0.9" stroke-linejoin="round"/><polygon points="497.42,292.30 503.57,295.60 503.57,302.10 497.42,305.40 491.27,302.10 491.27,295.60" fill="#f99d0c" stroke="#f99d0c" stroke-width="0.9" stroke-linejoin="round"/><polygon points="512.15,292.30 518.30,295.60 518.30,302.10 512.15,305.40 506.00,302.10 506.00,295.60" fill="#f99d0c" stroke="#f99d0c" stroke-width="0.9" stroke-linejoin="round"/><polygon points="526.88,292.30 533.03,295.60 533.03,302.10 526.88,305.40 520.73,302.10 520.73,295.60" fill="#fbb81e" stroke="#fbb81e" stroke-width="0.9" stroke-linejoin="round"/><polygon points="541.61,292.30 547.76,295.60 547.76,302.10 541.61,305.40 535.46,302.10 535.46,295.60" fill="#c395f8" stroke="#c395f8" stroke-width="0.9" stroke-linejoin="round"/><polygon points="556.34,292.30 562.49,295.60 562.49,302.10 556.34,305.40 550.19,302.10 550.19,295.60" fill="#c395f8" stroke="#c395f8" stroke-width="0.9" stroke-linejoin="round"/><polygon points="571.07,292.30 577.22,295.60 577.22,302.10 571.07,305.40 564.92,302.10 564.92,295.60" fill="#c395f8" stroke="#c395f8" stroke-width="0.9" stroke-linejoin="round"/><polygon points="585.80,292.30 591.95,295.60 591.95,302.10 585.80,305.40 579.65,302.10 579.65,295.60" fill="#9eaef7" stroke="#9eaef7" stroke-width="0.9" stroke-linejoin="round"/><polygon points="600.53,292.30 606.68,295.60 606.68,302.10 600.53,305.40 594.38,302.10 594.38,295.60" fill="#d1d7fb" stroke="#d1d7fb" stroke-width="0.9" stroke-linejoin="round"/><polygon points="431.13,304.55 437.28,307.85 437.28,314.35 431.13,317.65 424.98,314.35 424.98,307.85" fill="#d1d7fb" stroke="#d1d7fb" stroke-width="0.9" stroke-linejoin="round"/><polygon points="445.86,304.55 452.01,307.85 452.01,314.35 445.86,317.65 439.71,314.35 439.71,307.85" fill="#9eaef7" stroke="#9eaef7" stroke-width="0.9" stroke-linejoin="round"/><polygon points="460.59,304.55 466.74,307.85 466.74,314.35 460.59,317.65 454.44,314.35 454.44,307.85" fill="#c395f8" stroke="#c395f8" stroke-width="0.9" stroke-linejoin="round"/><polygon points="475.32,304.55 481.47,307.85 481.47,314.35 475.32,317.65 469.17,314.35 469.17,307.85" fill="#c395f8" stroke="#c395f8" stroke-width="0.9" stroke-linejoin="round"/><polygon points="490.05,304.55 496.20,307.85 496.20,314.35 490.05,317.65 483.90,314.35 483.90,307.85" fill="#c395f8" stroke="#c395f8" stroke-width="0.9" stroke-linejoin="round"/><polygon points="504.78,304.55 510.93,307.85 510.93,314.35 504.78,317.65 498.63,314.35 498.63,307.85" fill="#fbb81e" stroke="#fbb81e" stroke-width="0.9" stroke-linejoin="round"/><polygon points="519.51,304.55 525.66,307.85 525.66,314.35 519.51,317.65 513.36,314.35 513.36,307.85" fill="#f99d0c" stroke="#f99d0c" stroke-width="0.9" stroke-linejoin="round"/><polygon points="534.24,304.55 540.39,307.85 540.39,314.35 534.24,317.65 528.09,314.35 528.09,307.85" fill="#fbb81e" stroke="#fbb81e" stroke-width="0.9" stroke-linejoin="round"/><polygon points="548.97,304.55 555.12,307.85 555.12,314.35 548.97,317.65 542.82,314.35 542.82,307.85" fill="#c395f8" stroke="#c395f8" stroke-width="0.9" stroke-linejoin="round"/><polygon points="563.70,304.55 569.85,307.85 569.85,314.35 563.70,317.65 557.55,314.35 557.55,307.85" fill="#9eaef7" stroke="#9eaef7" stroke-width="0.9" stroke-linejoin="round"/><polygon points="578.43,304.55 584.58,307.85 584.58,314.35 578.43,317.65 572.28,314.35 572.28,307.85" fill="#d1d7fb" stroke="#d1d7fb" stroke-width="0.9" stroke-linejoin="round"/><polygon points="593.16,304.55 599.31,307.85 599.31,314.35 593.16,317.65 587.01,314.35 587.01,307.85" fill="#e9ecfc" stroke="#e9ecfc" stroke-width="0.9" stroke-linejoin="round"/><polygon points="607.89,304.55 614.04,307.85 614.04,314.35 607.89,317.65 601.74,314.35 601.74,307.85" fill="#d1d7fb" stroke="#d1d7fb" stroke-width="0.9" stroke-linejoin="round"/><polygon points="423.77,316.80 429.92,320.10 429.92,326.60 423.77,329.90 417.62,326.60 417.62,320.10" fill="#e9ecfc" stroke="#e9ecfc" stroke-width="0.9" stroke-linejoin="round"/><polygon points="438.50,316.80 444.65,320.10 444.65,326.60 438.50,329.90 432.35,326.60 432.35,320.10" fill="#d1d7fb" stroke="#d1d7fb" stroke-width="0.9" stroke-linejoin="round"/><polygon points="453.23,316.80 459.38,320.10 459.38,326.60 453.23,329.90 447.08,326.60 447.08,320.10" fill="#9eaef7" stroke="#9eaef7" stroke-width="0.9" stroke-linejoin="round"/><polygon points="467.96,316.80 474.11,320.10 474.11,326.60 467.96,329.90 461.81,326.60 461.81,320.10" fill="#9eaef7" stroke="#9eaef7" stroke-width="0.9" stroke-linejoin="round"/><polygon points="482.69,316.80 488.84,320.10 488.84,326.60 482.69,329.90 476.54,326.60 476.54,320.10" fill="#c395f8" stroke="#c395f8" stroke-width="0.9" stroke-linejoin="round"/><polygon points="497.42,316.80 503.57,320.10 503.57,326.60 497.42,329.90 491.27,326.60 491.27,320.10" fill="#d472f8" stroke="#d472f8" stroke-width="0.9" stroke-linejoin="round"/><polygon points="512.15,316.80 518.30,320.10 518.30,326.60 512.15,329.90 506.00,326.60 506.00,320.10" fill="#c395f8" stroke="#c395f8" stroke-width="0.9" stroke-linejoin="round"/><polygon points="526.88,316.80 533.03,320.10 533.03,326.60 526.88,329.90 520.73,326.60 520.73,320.10" fill="#fbb81e" stroke="#fbb81e" stroke-width="0.9" stroke-linejoin="round"/><polygon points="541.61,316.80 547.76,320.10 547.76,326.60 541.61,329.90 535.46,326.60 535.46,320.10" fill="#c395f8" stroke="#c395f8" stroke-width="0.9" stroke-linejoin="round"/><polygon points="556.34,316.80 562.49,320.10 562.49,326.60 556.34,329.90 550.19,326.60 550.19,320.10" fill="#9eaef7" stroke="#9eaef7" stroke-width="0.9" stroke-linejoin="round"/><polygon points="571.07,316.80 577.22,320.10 577.22,326.60 571.07,329.90 564.92,326.60 564.92,320.10" fill="#d1d7fb" stroke="#d1d7fb" stroke-width="0.9" stroke-linejoin="round"/><polygon points="585.80,316.80 591.95,320.10 591.95,326.60 585.80,329.90 579.65,326.60 579.65,320.10" fill="#e9ecfc" stroke="#e9ecfc" stroke-width="0.9" stroke-linejoin="round"/><polygon points="416.40,329.05 422.55,332.35 422.55,338.85 416.40,342.15 410.25,338.85 410.25,332.35" fill="#d1d7fb" stroke="#d1d7fb" stroke-width="0.9" stroke-linejoin="round"/><polygon points="431.13,329.05 437.28,332.35 437.28,338.85 431.13,342.15 424.98,338.85 424.98,332.35" fill="#d1d7fb" stroke="#d1d7fb" stroke-width="0.9" stroke-linejoin="round"/><polygon points="445.86,329.05 452.01,332.35 452.01,338.85 445.86,342.15 439.71,338.85 439.71,332.35" fill="#d1d7fb" stroke="#d1d7fb" stroke-width="0.9" stroke-linejoin="round"/><polygon points="460.59,329.05 466.74,332.35 466.74,338.85 460.59,342.15 454.44,338.85 454.44,332.35" fill="#d1d7fb" stroke="#d1d7fb" stroke-width="0.9" stroke-linejoin="round"/><polygon points="475.32,329.05 481.47,332.35 481.47,338.85 475.32,342.15 469.17,338.85 469.17,332.35" fill="#d472f8" stroke="#d472f8" stroke-width="0.9" stroke-linejoin="round"/><polygon points="490.05,329.05 496.20,332.35 496.20,338.85 490.05,342.15 483.90,338.85 483.90,332.35" fill="#9eaef7" stroke="#9eaef7" stroke-width="0.9" stroke-linejoin="round"/><polygon points="504.78,329.05 510.93,332.35 510.93,338.85 504.78,342.15 498.63,338.85 498.63,332.35" fill="#c395f8" stroke="#c395f8" stroke-width="0.9" stroke-linejoin="round"/><polygon points="519.51,329.05 525.66,332.35 525.66,338.85 519.51,342.15 513.36,338.85 513.36,332.35" fill="#c395f8" stroke="#c395f8" stroke-width="0.9" stroke-linejoin="round"/><polygon points="534.24,329.05 540.39,332.35 540.39,338.85 534.24,342.15 528.09,338.85 528.09,332.35" fill="#c395f8" stroke="#c395f8" stroke-width="0.9" stroke-linejoin="round"/><polygon points="548.97,329.05 555.12,332.35 555.12,338.85 548.97,342.15 542.82,338.85 542.82,332.35" fill="#d472f8" stroke="#d472f8" stroke-width="0.9" stroke-linejoin="round"/><polygon points="563.70,329.05 569.85,332.35 569.85,338.85 563.70,342.15 557.55,338.85 557.55,332.35" fill="#9eaef7" stroke="#9eaef7" stroke-width="0.9" stroke-linejoin="round"/><polygon points="578.43,329.05 584.58,332.35 584.58,338.85 578.43,342.15 572.28,338.85 572.28,332.35" fill="#d1d7fb" stroke="#d1d7fb" stroke-width="0.9" stroke-linejoin="round"/><polygon points="423.77,341.30 429.92,344.60 429.92,351.10 423.77,354.40 417.62,351.10 417.62,344.60" fill="#d1d7fb" stroke="#d1d7fb" stroke-width="0.9" stroke-linejoin="round"/><polygon points="438.50,341.30 444.65,344.60 444.65,351.10 438.50,354.40 432.35,351.10 432.35,344.60" fill="#e9ecfc" stroke="#e9ecfc" stroke-width="0.9" stroke-linejoin="round"/><polygon points="453.23,341.30 459.38,344.60 459.38,351.10 453.23,354.40 447.08,351.10 447.08,344.60" fill="#d1d7fb" stroke="#d1d7fb" stroke-width="0.9" stroke-linejoin="round"/><polygon points="467.96,341.30 474.11,344.60 474.11,351.10 467.96,354.40 461.81,351.10 461.81,344.60" fill="#9eaef7" stroke="#9eaef7" stroke-width="0.9" stroke-linejoin="round"/><polygon points="482.69,341.30 488.84,344.60 488.84,351.10 482.69,354.40 476.54,351.10 476.54,344.60" fill="#9eaef7" stroke="#9eaef7" stroke-width="0.9" stroke-linejoin="round"/><polygon points="497.42,341.30 503.57,344.60 503.57,351.10 497.42,354.40 491.27,351.10 491.27,344.60" fill="#9eaef7" stroke="#9eaef7" stroke-width="0.9" stroke-linejoin="round"/><polygon points="512.15,341.30 518.30,344.60 518.30,351.10 512.15,354.40 506.00,351.10 506.00,344.60" fill="#c395f8" stroke="#c395f8" stroke-width="0.9" stroke-linejoin="round"/><polygon points="526.88,341.30 533.03,344.60 533.03,351.10 526.88,354.40 520.73,351.10 520.73,344.60" fill="#9eaef7" stroke="#9eaef7" stroke-width="0.9" stroke-linejoin="round"/><polygon points="541.61,341.30 547.76,344.60 547.76,351.10 541.61,354.40 535.46,351.10 535.46,344.60" fill="#9eaef7" stroke="#9eaef7" stroke-width="0.9" stroke-linejoin="round"/><polygon points="571.07,341.30 577.22,344.60 577.22,351.10 571.07,354.40 564.92,351.10 564.92,344.60" fill="#d1d7fb" stroke="#d1d7fb" stroke-width="0.9" stroke-linejoin="round"/><polygon points="445.86,353.55 452.01,356.85 452.01,363.35 445.86,366.65 439.71,363.35 439.71,356.85" fill="#e9ecfc" stroke="#e9ecfc" stroke-width="0.9" stroke-linejoin="round"/><polygon points="460.59,353.55 466.74,356.85 466.74,363.35 460.59,366.65 454.44,363.35 454.44,356.85" fill="#e9ecfc" stroke="#e9ecfc" stroke-width="0.9" stroke-linejoin="round"/><polygon points="475.32,353.55 481.47,356.85 481.47,363.35 475.32,366.65 469.17,363.35 469.17,356.85" fill="#e9ecfc" stroke="#e9ecfc" stroke-width="0.9" stroke-linejoin="round"/><polygon points="490.05,353.55 496.20,356.85 496.20,363.35 490.05,366.65 483.90,363.35 483.90,356.85" fill="#9eaef7" stroke="#9eaef7" stroke-width="0.9" stroke-linejoin="round"/><polygon points="504.78,353.55 510.93,356.85 510.93,363.35 504.78,366.65 498.63,363.35 498.63,356.85" fill="#d1d7fb" stroke="#d1d7fb" stroke-width="0.9" stroke-linejoin="round"/><polygon points="519.51,353.55 525.66,356.85 525.66,363.35 519.51,366.65 513.36,363.35 513.36,356.85" fill="#9eaef7" stroke="#9eaef7" stroke-width="0.9" stroke-linejoin="round"/><polygon points="534.24,353.55 540.39,356.85 540.39,363.35 534.24,366.65 528.09,363.35 528.09,356.85" fill="#9eaef7" stroke="#9eaef7" stroke-width="0.9" stroke-linejoin="round"/><polygon points="548.97,353.55 555.12,356.85 555.12,363.35 548.97,366.65 542.82,363.35 542.82,356.85" fill="#e9ecfc" stroke="#e9ecfc" stroke-width="0.9" stroke-linejoin="round"/><polygon points="563.70,353.55 569.85,356.85 569.85,363.35 563.70,366.65 557.55,363.35 557.55,356.85" fill="#d1d7fb" stroke="#d1d7fb" stroke-width="0.9" stroke-linejoin="round"/><polygon points="578.43,353.55 584.58,356.85 584.58,363.35 578.43,366.65 572.28,363.35 572.28,356.85" fill="#d1d7fb" stroke="#d1d7fb" stroke-width="0.9" stroke-linejoin="round"/><polygon points="467.96,365.80 474.11,369.10 474.11,375.60 467.96,378.90 461.81,375.60 461.81,369.10" fill="#d1d7fb" stroke="#d1d7fb" stroke-width="0.9" stroke-linejoin="round"/><polygon points="482.69,365.80 488.84,369.10 488.84,375.60 482.69,378.90 476.54,375.60 476.54,369.10" fill="#d1d7fb" stroke="#d1d7fb" stroke-width="0.9" stroke-linejoin="round"/><polygon points="497.42,365.80 503.57,369.10 503.57,375.60 497.42,378.90 491.27,375.60 491.27,369.10" fill="#e9ecfc" stroke="#e9ecfc" stroke-width="0.9" stroke-linejoin="round"/><polygon points="512.15,365.80 518.30,369.10 518.30,375.60 512.15,378.90 506.00,375.60 506.00,369.10" fill="#d1d7fb" stroke="#d1d7fb" stroke-width="0.9" stroke-linejoin="round"/><polygon points="526.88,365.80 533.03,369.10 533.03,375.60 526.88,378.90 520.73,375.60 520.73,369.10" fill="#e9ecfc" stroke="#e9ecfc" stroke-width="0.9" stroke-linejoin="round"/><polygon points="541.61,365.80 547.76,369.10 547.76,375.60 541.61,378.90 535.46,375.60 535.46,369.10" fill="#e9ecfc" stroke="#e9ecfc" stroke-width="0.9" stroke-linejoin="round"/><polygon points="504.78,378.05 510.93,381.35 510.93,387.85 504.78,391.15 498.63,387.85 498.63,381.35" fill="#e9ecfc" stroke="#e9ecfc" stroke-width="0.9" stroke-linejoin="round"/><polygon points="548.97,378.05 555.12,381.35 555.12,387.85 548.97,391.15 542.82,387.85 542.82,381.35" fill="#e9ecfc" stroke="#e9ecfc" stroke-width="0.9" stroke-linejoin="round"/></svg>
<div style="position:absolute;left:384.70px;top:411.50px;width:1.60px;height:16.40px;background:#f2c660;border-radius:1px;"></div>
<div class="t" style="left:392.30px;top:416px;font-size:9.62px;letter-spacing:0.271px;font-weight:700;color:#23252b;">24.<span class="n1">1</span>%</div>
<div class="t r" style="left:426.00px;top:418px;font-size:7.85px;letter-spacing:0.173px;color:#7f828a;">Opened</div>
<div style="position:absolute;left:472.30px;top:411.50px;width:1.60px;height:16.40px;background:#cb90ea;border-radius:1px;"></div>
<div class="t" style="left:479.70px;top:416px;font-size:9.58px;letter-spacing:0.262px;font-weight:700;color:#23252b;"><span class="n1">1</span>6.<span class="n1">1</span>%</div>
<div class="t r" style="left:512.00px;top:418px;font-size:7.93px;letter-spacing:0.133px;color:#7f828a;">Clicked</div>
<div style="position:absolute;left:560.20px;top:411.50px;width:1.60px;height:16.40px;background:#bcc6f2;border-radius:1px;"></div>
<div class="t" style="left:567.40px;top:416px;font-size:10.04px;letter-spacing:0.284px;font-weight:700;color:#23252b;"><span class="n1">1</span>2.5%</div>
<div class="t r" style="left:602.00px;top:418px;font-size:8.03px;letter-spacing:0.144px;color:#7f828a;">Converted</div>
<div class="t" style="left:388.10px;top:446px;font-size:9.10px;font-weight:700;color:#2a2c33;">0.<span class="n1">1</span>%</div>
<div class="t r" style="left:410.00px;top:446px;font-size:8.82px;letter-spacing:0.185px;color:#5d6069;">Sent</div>
<div style="position:absolute;left:576.1px;top:445.70px;width:9.8px;height:9.8px;border-radius:50%;background:#c293f3"></div>
<svg style="position:absolute;left:579.30px;top:447.70px;" width="3.6" height="5.2" viewBox="0 0 3.6 5.2"><path d="M1.8 0 L3.5 2.2 L2.45 2.2 L2.45 4.9 L1.15 4.9 L1.15 2.2 L0.1 2.2 Z" fill="#3d2a86"/></svg>
<div class="t r" style="left:590.90px;top:446px;font-size:8.60px;letter-spacing:0.269px;color:#6e7179;">+0.3%</div>
<svg style="position:absolute;left:630.20px;top:448.50px;" width="5" height="3.6" viewBox="0 0 5 3.6"><path d="M0.8 0.8 L2.5 2.6 L4.2 0.8" stroke="#555962" stroke-width="1.1" fill="none" stroke-linecap="round" stroke-linejoin="round"/></svg>
<div class="t" style="left:388.10px;top:472px;font-size:9.10px;font-weight:700;color:#2a2c33;">0.2%</div>
<div class="t r" style="left:412.10px;top:472px;font-size:9.38px;letter-spacing:0.159px;color:#5d6069;">Unsubscribed</div>
<div style="position:absolute;left:576.1px;top:471.30px;width:9.8px;height:9.8px;border-radius:50%;background:#d3dafb"></div>
<svg style="position:absolute;left:579.30px;top:473.30px;" width="3.6" height="5.2" viewBox="0 0 3.6 5.2"><path d="M1.8 0 L3.5 2.2 L2.45 2.2 L2.45 4.9 L1.15 4.9 L1.15 2.2 L0.1 2.2 Z" fill="#34468f"/></svg>
<div class="t r" style="left:590.90px;top:472px;font-size:8.60px;letter-spacing:-0.041px;color:#6e7179;">+0.<span class="n1">1</span>%</div>
<svg style="position:absolute;left:630.20px;top:474.10px;" width="5" height="3.6" viewBox="0 0 5 3.6"><path d="M0.8 0.8 L2.5 2.6 L4.2 0.8" stroke="#555962" stroke-width="1.1" fill="none" stroke-linecap="round" stroke-linejoin="round"/></svg>
<div class="t" style="left:388.10px;top:498px;font-size:9.10px;font-weight:700;color:#2a2c33;">0.3%</div>
<div class="t r" style="left:412.10px;top:498px;font-size:9.30px;letter-spacing:0.160px;color:#5d6069;">Archived</div>
<div style="position:absolute;left:576.1px;top:496.90px;width:9.8px;height:9.8px;border-radius:50%;background:#f3b53a"></div>
<svg style="position:absolute;left:579.30px;top:498.90px;" width="3.6" height="5.2" viewBox="0 0 3.6 5.2"><path d="M1.8 0 L3.5 2.2 L2.45 2.2 L2.45 4.9 L1.15 4.9 L1.15 2.2 L0.1 2.2 Z" fill="#5b3d0a"/></svg>
<div class="t r" style="left:590.90px;top:498px;font-size:8.60px;letter-spacing:0.219px;color:#6e7179;">+0.7%</div>
<svg style="position:absolute;left:630.20px;top:499.70px;" width="5" height="3.6" viewBox="0 0 5 3.6"><path d="M0.8 0.8 L2.5 2.6 L4.2 0.8" stroke="#555962" stroke-width="1.1" fill="none" stroke-linecap="round" stroke-linejoin="round"/></svg>
<div class="t" style="left:388.10px;top:523px;font-size:9.10px;font-weight:700;color:#2a2c33;">0.4%</div>
<div class="t r" style="left:412.10px;top:523px;font-size:9.18px;letter-spacing:0.160px;color:#5d6069;">Mark as spam</div>
<div style="position:absolute;left:576.1px;top:522.50px;width:9.8px;height:9.8px;border-radius:50%;background:#eef0fd"></div>
<svg style="position:absolute;left:579.30px;top:524.50px;" width="3.6" height="5.2" viewBox="0 0 3.6 5.2"><path d="M1.8 0 L3.5 2.2 L2.45 2.2 L2.45 4.9 L1.15 4.9 L1.15 2.2 L0.1 2.2 Z" fill="#34468f"/></svg>
<div class="t r" style="left:590.90px;top:523px;font-size:8.60px;letter-spacing:0.133px;color:#6e7179;">+<span class="n1">1</span>.5%</div>
<svg style="position:absolute;left:630.20px;top:525.30px;" width="5" height="3.6" viewBox="0 0 5 3.6"><path d="M0.8 0.8 L2.5 2.6 L4.2 0.8" stroke="#555962" stroke-width="1.1" fill="none" stroke-linecap="round" stroke-linejoin="round"/></svg>
<div class="t" style="left:695.60px;top:69px;font-size:11.27px;letter-spacing:0.200px;font-weight:700;color:#1f2127;">On boarding Campaign</div>
<div style="position:absolute;left:949.85px;top:68.85px;width:2.3px;height:2.3px;border-radius:50%;background:#737478"></div>
<div style="position:absolute;left:949.85px;top:73.15px;width:2.3px;height:2.3px;border-radius:50%;background:#737478"></div>
<div style="position:absolute;left:949.85px;top:77.45px;width:2.3px;height:2.3px;border-radius:50%;background:#737478"></div>
<div style="position:absolute;left:695.00px;top:92.20px;width:263.50px;height:40.30px;background:#eef1f9;border-radius:7px;"></div>
<svg style="position:absolute;left:700.00px;top:102.00px;" width="20" height="20" viewBox="0 0 20 20"><path d="M12.5,3.3999999999999995 Q14.164,6.936 17.7,8.6 Q14.164,10.264 12.5,13.8 Q10.836,10.264 7.3,8.6 Q10.836,6.936 12.5,3.3999999999999995 Z M6.6,10.5 Q7.688,12.812000000000001 10.0,13.9 Q7.688,14.988 6.6,17.3 Q5.512,14.988 3.1999999999999997,13.9 Q5.512,12.812000000000001 6.6,10.5 Z" fill="#4a5a8e"/></svg>
<div class="t r" style="left:726.00px;top:102px;font-size:10.33px;letter-spacing:0.385px;color:#56658a;-webkit-text-stroke:0.2px #56658a">Help new customer understand the value</div>
<div class="t r" style="left:726.00px;top:114px;font-size:10.54px;letter-spacing:0.345px;color:#56658a;-webkit-text-stroke:0.2px #56658a">they’ll receive from your product.</div>
<div style="position:absolute;left:695.0px;top:149.0px;width:126.5px;height:85.5px;box-sizing:border-box;border:1px solid #e8eaee;border-radius:8px;background:#fff"></div>
<div style="position:absolute;left:705.80px;top:158.90px;width:67.00px;height:15.50px;background:#e3eafc;border-radius:3.5px;"></div>
<div style="position:absolute;left:710.50px;top:164.50px;width:4.6px;height:4.6px;border-radius:50%;background:#3a6fe0"></div>
<div class="t r" style="left:721.00px;top:161px;font-size:10.59px;letter-spacing:0.171px;color:#262a3a;-webkit-text-stroke:0.3px #262a3a">Delivered</div>
<div class="t" style="left:705.80px;top:195px;font-size:15.42px;letter-spacing:0.329px;font-weight:700;color:#17181c;"><span class="n1">1</span>2.5%</div>
<div class="t r" style="left:705.80px;top:216px;font-size:9.35px;letter-spacing:0.145px;color:#8e9198;">Last 24 hours</div>
<div style="position:absolute;left:831.8px;top:149.0px;width:126.5px;height:85.5px;box-sizing:border-box;border:1px solid #e8eaee;border-radius:8px;background:#fff"></div>
<div style="position:absolute;left:842.60px;top:158.90px;width:58.75px;height:15.50px;background:#e3eafc;border-radius:3.5px;"></div>
<div style="position:absolute;left:847.30px;top:164.50px;width:4.6px;height:4.6px;border-radius:50%;background:#3a6fe0"></div>
<div class="t r" style="left:857.80px;top:162px;font-size:10.39px;letter-spacing:0.225px;color:#262a3a;-webkit-text-stroke:0.3px #262a3a">Opened</div>
<div class="t" style="left:842.60px;top:195px;font-size:15.82px;letter-spacing:0.348px;font-weight:700;color:#17181c;">40.3%</div>
<div class="t r" style="left:842.60px;top:216px;font-size:9.36px;letter-spacing:0.148px;color:#8e9198;">Last 30 days</div>
<div style="position:absolute;left:695.0px;top:246.0px;width:126.5px;height:85.5px;box-sizing:border-box;border:1px solid #e8eaee;border-radius:8px;background:#fff"></div>
<div style="position:absolute;left:705.80px;top:255.90px;width:57.50px;height:15.50px;background:#e3eafc;border-radius:3.5px;"></div>
<div style="position:absolute;left:710.50px;top:261.50px;width:4.6px;height:4.6px;border-radius:50%;background:#3a6fe0"></div>
<div class="t r" style="left:721.00px;top:258px;font-size:10.62px;letter-spacing:0.180px;color:#262a3a;-webkit-text-stroke:0.3px #262a3a">Clicked</div>
<div class="t" style="left:705.80px;top:291px;font-size:16.04px;letter-spacing:0.355px;font-weight:700;color:#17181c;">30.9%</div>
<div class="t r" style="left:705.80px;top:313px;font-size:9.36px;letter-spacing:0.148px;color:#8e9198;">Last 30 days</div>
<div style="position:absolute;left:831.8px;top:246.0px;width:126.5px;height:85.5px;box-sizing:border-box;border:1px solid #e8eaee;border-radius:8px;background:#fff"></div>
<div style="position:absolute;left:842.60px;top:255.90px;width:71.90px;height:15.50px;background:#e3eafc;border-radius:3.5px;"></div>
<div style="position:absolute;left:847.30px;top:261.50px;width:4.6px;height:4.6px;border-radius:50%;background:#3a6fe0"></div>
<div class="t r" style="left:857.80px;top:258px;font-size:10.70px;letter-spacing:0.191px;color:#262a3a;-webkit-text-stroke:0.3px #262a3a">Converted</div>
<div class="t" style="left:842.60px;top:292px;font-size:15.51px;letter-spacing:0.330px;font-weight:700;color:#17181c;"><span class="n1">1</span>0.5%</div>
<div class="t r" style="left:842.60px;top:313px;font-size:9.36px;letter-spacing:0.148px;color:#8e9198;">Last 30 days</div>
<svg style="position:absolute;left:0.00px;top:0.00px;left:0;top:0" width="1024" height="768" viewBox="0 0 1024 768"><circle cx="804.2" cy="217.3" r="6.1" fill="none" stroke="#eff0f3" stroke-width="2.3"/><path d="M801.15,212.02 A6.1,6.1 0 1 1 803.14,223.31" fill="none" stroke="#3dbf8d" stroke-width="2.3" stroke-linecap="round"/><circle cx="940.6" cy="314.0" r="6.0" fill="none" stroke="#eff0f3" stroke-width="2.5"/><path d="M937.88,308.65 A6.0,6.0 0 1 1 940.91,319.99" fill="none" stroke="#ecb22e" stroke-width="2.5" stroke-linecap="round"/></svg>
<svg style="position:absolute;left:0.00px;top:0.00px;" width="1024" height="768" viewBox="0 0 1024 768"><path d="M916.50,222.60 C917.18,222.18 919.38,222.10 920.60,220.10 C921.82,218.10 922.73,211.98 923.80,210.60 C924.87,209.22 925.70,210.42 927.00,211.80 C928.30,213.18 930.30,217.95 931.60,218.90 C932.90,219.85 933.62,218.88 934.80,217.50 C935.98,216.12 937.48,211.50 938.70,210.60 C939.92,209.70 940.92,212.78 942.10,212.10 C943.28,211.42 945.18,207.43 945.80,206.50" fill="none" stroke="#5457c2" stroke-width="1.35" stroke-linecap="round" stroke-linejoin="round"/><path d="M779.30,319.60 C779.98,319.17 782.18,319.10 783.40,317.00 C784.62,314.90 785.45,308.43 786.60,307.00 C787.75,305.57 788.92,306.95 790.30,308.40 C791.68,309.85 793.65,314.72 794.90,315.70 C796.15,316.68 796.67,315.75 797.80,314.30 C798.93,312.85 800.47,307.90 801.70,307.00 C802.93,306.10 803.97,309.52 805.20,308.90 C806.43,308.28 808.45,304.23 809.10,303.30" fill="none" stroke="#d2719e" stroke-width="1.35" stroke-linecap="round" stroke-linejoin="round"/></svg>
<svg style="position:absolute;left:697.30px;top:387.30px;" width="8.2" height="11" viewBox="0 0 8.2 11"><path d="M3.9 0.2 L7.9 0.2 L5.9 4.2 L8.3 4.2 L2.0 11.1 L3.5 6.3 L0.6 6.3 Z" fill="#1f2024" stroke="#1f2024" stroke-width="0.4" stroke-linejoin="round"/></svg>
<div class="t" style="left:713.20px;top:389px;font-size:11.29px;letter-spacing:0.211px;font-weight:700;color:#1f2127;">Leaderboard</div>
<div style="position:absolute;left:897.30px;top:386.60px;width:61.60px;height:16.30px;background:#3b7bec;border-radius:3px;"></div>
<div class="t r" style="left:903.90px;top:391px;font-size:9.20px;letter-spacing:0.162px;color:#eef4ff;">4 Channels</div>
<div class="t r" style="left:713.20px;top:408px;font-size:8.91px;letter-spacing:0.190px;color:#9b9ea5;">Sent</div>
<div style="position:absolute;left:737.10px;top:408.60px;width:1.00px;height:6.60px;background:#e8e9ec;border-radius:0px;"></div>
<div class="t" style="left:743.60px;top:408px;font-size:8.51px;letter-spacing:0.136px;font-weight:700;color:#2d3038;">From last 7 days</div>
<div style="position:absolute;left:695.60px;top:430.90px;width:262.60px;height:41.10px;background:#eaf7f4;border-radius:4px;"></div>
<svg style="position:absolute;left:890.50px;top:439.80px;" width="10.8" height="10.8" viewBox="0 0 10.8 10.8"><circle cx="5.4" cy="5.4" r="5.35" fill="#3a6dcf"/><circle cx="5.4" cy="5.4" r="2.9" fill="#e4e7ee"/><ellipse cx="5.2" cy="4.6" rx="1.5" ry="1.3" fill="#5a5560"/><ellipse cx="5.4" cy="6.1" rx="1.3" ry="1.1" fill="#f1d9c8"/></svg>
<svg style="position:absolute;left:890.50px;top:484.80px;" width="10.8" height="10.8" viewBox="0 0 10.8 10.8"><circle cx="5.4" cy="5.4" r="5.35" fill="#f1a5c1"/><ellipse cx="5.4" cy="5.5" rx="2.9" ry="3.5" fill="#5a1d2b"/><ellipse cx="5.4" cy="5.0" rx="1.5" ry="1.8" fill="#e8c0b2"/></svg>
<svg style="position:absolute;left:890.50px;top:516.70px;" width="10.8" height="10.8" viewBox="0 0 10.8 10.8"><circle cx="5.4" cy="5.4" r="5.35" fill="#eac46c"/><ellipse cx="5.3" cy="5.5" rx="3.0" ry="3.5" fill="#4f3d33"/><ellipse cx="5.5" cy="5.4" rx="1.6" ry="1.9" fill="#dcc2ad"/></svg>
<div class="t" style="left:702.60px;top:441px;font-size:8.80px;letter-spacing:1.090px;font-weight:700;color:#3b4672;">#<span class="n1">1</span></div>
<div class="t" style="left:737.80px;top:441px;font-size:8.69px;letter-spacing:0.160px;font-weight:700;color:#2b3358;">Most Sent</div>
<div class="t r" style="left:737.80px;top:455px;font-size:9.03px;letter-spacing:0.162px;color:#8f9299;">Welcome Email</div>
<div class="t" style="left:811.40px;top:441px;font-size:9.20px;letter-spacing:0.874px;font-weight:700;color:#33353c;">399</div>
<div class="t r" style="left:832.00px;top:441px;font-size:9.14px;letter-spacing:0.166px;color:#96999f;">(Message)</div>
<div class="t r" style="left:906.40px;top:441px;font-size:9.02px;letter-spacing:0.166px;color:#3f57ac;-webkit-text-stroke:0.2px #3f57ac">@jaypark</div>
<div class="t" style="left:702.60px;top:486px;font-size:8.80px;letter-spacing:0.211px;font-weight:700;color:#3b4672;">#2</div>
<div class="t" style="left:723.00px;top:486px;font-size:8.82px;letter-spacing:0.139px;font-weight:700;color:#2e3038;">Unlock the powe...</div>
<div class="t" style="left:811.40px;top:486px;font-size:9.20px;letter-spacing:0.874px;font-weight:700;color:#33353c;">200</div>
<div class="t r" style="left:831.50px;top:486px;font-size:9.14px;letter-spacing:0.166px;color:#96999f;">(Message)</div>
<div class="t r" style="left:906.40px;top:487px;font-size:8.97px;letter-spacing:0.168px;color:#3f57ac;-webkit-text-stroke:0.2px #3f57ac">@seorina</div>
<div class="t" style="left:702.60px;top:518px;font-size:8.80px;letter-spacing:0.211px;font-weight:700;color:#3b4672;">#3</div>
<div class="t" style="left:723.00px;top:518px;font-size:8.93px;letter-spacing:0.131px;font-weight:700;color:#2e3038;">Top 3 apps that...</div>
<div class="t" style="left:811.40px;top:518px;font-size:9.20px;letter-spacing:0.584px;font-weight:700;color:#33353c;"><span class="n1">1</span>24</div>
<div class="t r" style="left:830.00px;top:518px;font-size:9.14px;letter-spacing:0.166px;color:#96999f;">(Message)</div>
<div class="t r" style="left:906.40px;top:519px;font-size:9.15px;letter-spacing:0.191px;color:#3f57ac;-webkit-text-stroke:0.2px #3f57ac">@wendyrv</div>
<svg style="position:absolute;left:722.80px;top:439.40px;" width="10.6" height="10.2" viewBox="0 0 10.6 10.2"><g stroke="#1e4d3c" stroke-width="0.9" stroke-linejoin="round" fill="#38a97b">
<path d="M2.6 0.6 H8.0 V3.4 C8.0 5.2 6.8 6.3 5.3 6.3 C3.8 6.3 2.6 5.2 2.6 3.4 Z"/>
<path d="M2.6 1.4 H0.7 C0.7 3.4 1.6 4.2 2.9 4.4" fill="none"/>
<path d="M8.0 1.4 H9.9 C9.9 3.4 9.0 4.2 7.7 4.4" fill="none"/>
<path d="M4.6 6.3 H6.0 V8.0 H4.6 Z"/>
<path d="M3.0 8.0 H7.6 V9.6 H3.0 Z" fill="#1e4d3c"/></g></svg>
<div class="t" style="left:377.90px;top:593px;font-size:11.41px;letter-spacing:0.192px;font-weight:700;color:#1f2127;">Journey Metrics</div>
<div class="t r" style="left:905.40px;top:592px;font-size:9.40px;letter-spacing:0.247px;color:#4e5158;">Jul <span class="n1">1</span>5, 2023</div>
<div class="t r" style="left:377.90px;top:614px;font-size:8.86px;letter-spacing:0.191px;color:#8d9098;">Sent</div>
<div class="t" style="left:377.90px;top:629px;font-size:10.30px;letter-spacing:0.639px;font-weight:700;color:#26282e;"><span class="n1">1</span>00.0%</div>
<div class="t r" style="left:494.70px;top:614px;font-size:8.94px;letter-spacing:0.197px;color:#8d9098;">Opened</div>
<div class="t" style="left:494.70px;top:629px;font-size:10.30px;letter-spacing:0.624px;font-weight:700;color:#26282e;">30.6%</div>
<div class="t r" style="left:610.60px;top:614px;font-size:9.35px;letter-spacing:0.157px;color:#8d9098;">Clicked</div>
<div class="t" style="left:610.60px;top:629px;font-size:10.30px;letter-spacing:0.841px;font-weight:700;color:#26282e;">2.4%</div>
<div class="t r" style="left:726.90px;top:613px;font-size:9.43px;letter-spacing:0.141px;color:#8d9098;">Click to open</div>
<div class="t" style="left:726.90px;top:629px;font-size:10.30px;letter-spacing:0.807px;font-weight:700;color:#26282e;">4.3%</div>
<div class="t r" style="left:843.40px;top:614px;font-size:9.18px;letter-spacing:0.160px;color:#8d9098;">Mark as spam</div>
<div class="t" style="left:843.40px;top:629px;font-size:10.30px;letter-spacing:0.350px;font-weight:700;color:#26282e;"><span class="n1">1</span>.5%</div>
<svg style="position:absolute;left:0.00px;top:0.00px;" width="1024" height="768" viewBox="0 0 1024 768"><rect x="386.00" y="652.3" width="1" height="43" fill="#eeeff1"/><rect x="385.95" y="698.4" width="1.1" height="3.3" fill="#aeb0b5"/><rect x="397.53" y="652.3" width="1" height="43" fill="#eeeff1"/><rect x="397.48" y="698.4" width="1.1" height="3.3" fill="#aeb0b5"/><rect x="409.06" y="652.3" width="1" height="43" fill="#eeeff1"/><rect x="409.01" y="698.4" width="1.1" height="3.3" fill="#aeb0b5"/><rect x="420.59" y="652.3" width="1" height="43" fill="#eeeff1"/><rect x="420.54" y="698.4" width="1.1" height="3.3" fill="#aeb0b5"/><rect x="432.12" y="652.3" width="1" height="43" fill="#eeeff1"/><rect x="432.07" y="698.4" width="1.1" height="3.3" fill="#aeb0b5"/><rect x="443.65" y="652.3" width="1" height="43" fill="#eeeff1"/><rect x="443.60" y="698.4" width="1.1" height="3.3" fill="#aeb0b5"/><rect x="455.18" y="652.3" width="1" height="43" fill="#eeeff1"/><rect x="455.13" y="698.4" width="1.1" height="3.3" fill="#aeb0b5"/><rect x="466.71" y="652.3" width="1" height="43" fill="#eeeff1"/><rect x="466.66" y="698.4" width="1.1" height="3.3" fill="#aeb0b5"/><rect x="478.24" y="652.3" width="1" height="43" fill="#eeeff1"/><rect x="478.19" y="698.4" width="1.1" height="3.3" fill="#aeb0b5"/><rect x="489.77" y="652.3" width="1" height="43" fill="#eeeff1"/><rect x="489.72" y="698.4" width="1.1" height="3.3" fill="#aeb0b5"/><rect x="501.30" y="652.3" width="1" height="43" fill="#eeeff1"/><rect x="501.25" y="698.4" width="1.1" height="3.3" fill="#aeb0b5"/><rect x="512.83" y="652.3" width="1" height="43" fill="#eeeff1"/><rect x="512.78" y="698.4" width="1.1" height="3.3" fill="#aeb0b5"/><rect x="524.36" y="652.3" width="1" height="43" fill="#eeeff1"/><rect x="524.31" y="698.4" width="1.1" height="3.3" fill="#aeb0b5"/><rect x="535.89" y="652.3" width="1" height="43" fill="#eeeff1"/><rect x="535.84" y="698.4" width="1.1" height="3.3" fill="#aeb0b5"/><rect x="547.42" y="652.3" width="1" height="43" fill="#eeeff1"/><rect x="547.37" y="698.4" width="1.1" height="3.3" fill="#aeb0b5"/><rect x="558.95" y="652.3" width="1" height="43" fill="#eeeff1"/><rect x="558.90" y="698.4" width="1.1" height="3.3" fill="#aeb0b5"/><rect x="570.48" y="652.3" width="1" height="43" fill="#eeeff1"/><rect x="570.43" y="698.4" width="1.1" height="3.3" fill="#aeb0b5"/><rect x="582.01" y="652.3" width="1" height="43" fill="#eeeff1"/><rect x="581.96" y="698.4" width="1.1" height="3.3" fill="#aeb0b5"/><rect x="593.54" y="652.3" width="1" height="43" fill="#eeeff1"/><rect x="593.49" y="698.4" width="1.1" height="3.3" fill="#aeb0b5"/><rect x="605.07" y="652.3" width="1" height="43" fill="#eeeff1"/><rect x="605.02" y="698.4" width="1.1" height="3.3" fill="#aeb0b5"/><rect x="616.60" y="652.3" width="1" height="43" fill="#eeeff1"/><rect x="616.55" y="698.4" width="1.1" height="3.3" fill="#aeb0b5"/><rect x="628.13" y="652.3" width="1" height="43" fill="#eeeff1"/><rect x="628.08" y="698.4" width="1.1" height="3.3" fill="#aeb0b5"/><rect x="639.66" y="652.3" width="1" height="43" fill="#eeeff1"/><rect x="639.61" y="698.4" width="1.1" height="3.3" fill="#aeb0b5"/><rect x="651.19" y="652.3" width="1" height="43" fill="#eeeff1"/><rect x="651.14" y="698.4" width="1.1" height="3.3" fill="#aeb0b5"/><rect x="662.72" y="652.3" width="1" height="43" fill="#eeeff1"/><rect x="662.67" y="698.4" width="1.1" height="3.3" fill="#aeb0b5"/><rect x="674.25" y="652.3" width="1" height="43" fill="#eeeff1"/><rect x="674.20" y="698.4" width="1.1" height="3.3" fill="#aeb0b5"/><rect x="685.78" y="652.3" width="1" height="43" fill="#eeeff1"/><rect x="685.73" y="698.4" width="1.1" height="3.3" fill="#aeb0b5"/><rect x="697.31" y="652.3" width="1" height="43" fill="#eeeff1"/><rect x="697.26" y="698.4" width="1.1" height="3.3" fill="#aeb0b5"/><rect x="708.84" y="652.3" width="1" height="43" fill="#eeeff1"/><rect x="708.79" y="698.4" width="1.1" height="3.3" fill="#aeb0b5"/><rect x="720.37" y="652.3" width="1" height="43" fill="#eeeff1"/><rect x="720.32" y="698.4" width="1.1" height="3.3" fill="#aeb0b5"/><rect x="731.90" y="652.3" width="1" height="43" fill="#eeeff1"/><rect x="731.85" y="698.4" width="1.1" height="3.3" fill="#aeb0b5"/><rect x="743.43" y="652.3" width="1" height="43" fill="#eeeff1"/><rect x="743.38" y="698.4" width="1.1" height="3.3" fill="#aeb0b5"/><rect x="754.96" y="652.3" width="1" height="43" fill="#eeeff1"/><rect x="754.91" y="698.4" width="1.1" height="3.3" fill="#aeb0b5"/><rect x="766.49" y="652.3" width="1" height="43" fill="#eeeff1"/><rect x="766.44" y="698.4" width="1.1" height="3.3" fill="#aeb0b5"/><rect x="778.02" y="652.3" width="1" height="43" fill="#eeeff1"/><rect x="777.97" y="698.4" width="1.1" height="3.3" fill="#aeb0b5"/><rect x="789.55" y="652.3" width="1" height="43" fill="#eeeff1"/><rect x="789.50" y="698.4" width="1.1" height="3.3" fill="#aeb0b5"/><rect x="801.08" y="652.3" width="1" height="43" fill="#eeeff1"/><rect x="801.03" y="698.4" width="1.1" height="3.3" fill="#aeb0b5"/><rect x="812.61" y="652.3" width="1" height="43" fill="#eeeff1"/><rect x="812.56" y="698.4" width="1.1" height="3.3" fill="#aeb0b5"/><rect x="824.14" y="652.3" width="1" height="43" fill="#eeeff1"/><rect x="824.09" y="698.4" width="1.1" height="3.3" fill="#aeb0b5"/><rect x="835.67" y="652.3" width="1" height="43" fill="#eeeff1"/><rect x="835.62" y="698.4" width="1.1" height="3.3" fill="#aeb0b5"/><rect x="847.20" y="652.3" width="1" height="43" fill="#eeeff1"/><rect x="847.15" y="698.4" width="1.1" height="3.3" fill="#aeb0b5"/><rect x="858.73" y="652.3" width="1" height="43" fill="#eeeff1"/><rect x="858.68" y="698.4" width="1.1" height="3.3" fill="#aeb0b5"/><rect x="870.26" y="652.3" width="1" height="43" fill="#eeeff1"/><rect x="870.21" y="698.4" width="1.1" height="3.3" fill="#aeb0b5"/><rect x="881.79" y="652.3" width="1" height="43" fill="#eeeff1"/><rect x="881.74" y="698.4" width="1.1" height="3.3" fill="#aeb0b5"/><rect x="893.32" y="652.3" width="1" height="43" fill="#eeeff1"/><rect x="893.27" y="698.4" width="1.1" height="3.3" fill="#aeb0b5"/><rect x="904.85" y="652.3" width="1" height="43" fill="#eeeff1"/><rect x="904.80" y="698.4" width="1.1" height="3.3" fill="#aeb0b5"/><rect x="916.38" y="652.3" width="1" height="43" fill="#eeeff1"/><rect x="916.33" y="698.4" width="1.1" height="3.3" fill="#aeb0b5"/><rect x="927.91" y="652.3" width="1" height="43" fill="#eeeff1"/><rect x="927.86" y="698.4" width="1.1" height="3.3" fill="#aeb0b5"/><rect x="939.44" y="652.3" width="1" height="43" fill="#eeeff1"/><rect x="939.39" y="698.4" width="1.1" height="3.3" fill="#aeb0b5"/><rect x="950.97" y="652.3" width="1" height="43" fill="#eeeff1"/><rect x="950.92" y="698.4" width="1.1" height="3.3" fill="#aeb0b5"/><rect x="396.85" y="682.10" width="2.5" height="12.30" rx="1" fill="#bfe7d8"/><rect x="403.58" y="672.30" width="2.5" height="5.90" rx="1" fill="#bfe7d8"/><rect x="403.58" y="682.60" width="2.5" height="11.80" rx="1" fill="#bfe7d8"/><rect x="410.30" y="670.20" width="2.5" height="13.80" rx="1" fill="#bfe7d8"/><rect x="410.30" y="688.00" width="2.5" height="6.40" rx="1" fill="#bfe7d8"/><rect x="417.03" y="675.30" width="2.5" height="9.20" rx="1" fill="#bfe7d8"/><rect x="417.03" y="688.00" width="2.5" height="6.40" rx="1" fill="#bfe7d8"/><rect x="423.75" y="677.20" width="2.5" height="17.20" rx="1" fill="#bfe7d8"/><rect x="430.48" y="685.00" width="2.5" height="9.40" rx="1" fill="#bfe7d8"/><rect x="437.20" y="673.30" width="2.5" height="10.70" rx="1" fill="#bfe7d8"/><rect x="437.20" y="688.00" width="2.5" height="6.40" rx="1" fill="#bfe7d8"/><rect x="443.93" y="668.20" width="2.5" height="6.10" rx="1" fill="#bfe7d8"/><rect x="443.93" y="678.70" width="2.5" height="15.70" rx="1" fill="#bfe7d8"/><rect x="450.65" y="662.60" width="2.5" height="19.50" rx="1" fill="#bfe7d8"/><rect x="450.65" y="686.50" width="2.5" height="7.90" rx="1" fill="#bfe7d8"/><rect x="457.38" y="674.10" width="2.5" height="8.00" rx="1" fill="#bfe7d8"/><rect x="457.38" y="686.50" width="2.5" height="7.90" rx="1" fill="#bfe7d8"/><rect x="464.10" y="683.60" width="2.5" height="10.80" rx="1" fill="#bfe7d8"/><rect x="470.83" y="688.00" width="2.5" height="6.40" rx="1" fill="#bfe7d8"/><rect x="477.55" y="669.00" width="2.5" height="15.00" rx="1" fill="#bfe7d8"/><rect x="477.55" y="688.00" width="2.5" height="6.40" rx="1" fill="#bfe7d8"/><rect x="484.28" y="676.30" width="2.5" height="5.30" rx="1" fill="#bfe7d8"/><rect x="484.28" y="685.50" width="2.5" height="8.90" rx="1" fill="#bfe7d8"/><rect x="491.00" y="688.00" width="2.5" height="6.40" rx="1" fill="#bfe7d8"/><rect x="497.73" y="673.30" width="2.5" height="10.80" rx="1" fill="#bfe7d8"/><rect x="497.73" y="688.00" width="2.5" height="6.40" rx="1" fill="#bfe7d8"/><rect x="504.45" y="673.30" width="2.5" height="5.90" rx="1" fill="#bfe7d8"/><rect x="504.45" y="683.60" width="2.5" height="10.80" rx="1" fill="#bfe7d8"/><rect x="511.17" y="675.80" width="2.5" height="8.30" rx="1" fill="#bfe7d8"/><rect x="511.17" y="688.00" width="2.5" height="6.40" rx="1" fill="#bfe7d8"/><rect x="517.90" y="664.00" width="2.5" height="14.20" rx="1" fill="#bfe7d8"/><rect x="517.90" y="682.60" width="2.5" height="11.80" rx="1" fill="#bfe7d8"/><rect x="524.62" y="667.50" width="2.5" height="5.80" rx="1" fill="#bfe7d8"/><rect x="524.62" y="677.70" width="2.5" height="16.70" rx="1" fill="#bfe7d8"/><rect x="531.35" y="668.20" width="2.5" height="15.90" rx="1" fill="#bfe7d8"/><rect x="531.35" y="688.00" width="2.5" height="6.40" rx="1" fill="#bfe7d8"/><rect x="538.08" y="660.10" width="2.5" height="15.70" rx="1" fill="#bfe7d8"/><rect x="538.08" y="679.20" width="2.5" height="15.20" rx="1" fill="#bfe7d8"/><rect x="544.80" y="688.00" width="2.5" height="6.40" rx="1" fill="#bfe7d8"/><rect x="551.52" y="673.30" width="2.5" height="10.80" rx="1" fill="#bfe7d8"/><rect x="551.52" y="688.00" width="2.5" height="6.40" rx="1" fill="#bfe7d8"/><rect x="558.25" y="676.30" width="2.5" height="5.80" rx="1" fill="#bfe7d8"/><rect x="558.25" y="686.00" width="2.5" height="8.40" rx="1" fill="#bfe7d8"/><rect x="564.98" y="663.10" width="2.5" height="5.80" rx="1" fill="#bfe7d8"/><rect x="564.98" y="673.30" width="2.5" height="21.10" rx="1" fill="#bfe7d8"/><rect x="571.70" y="667.30" width="2.5" height="16.80" rx="1" fill="#bfe7d8"/><rect x="571.70" y="688.00" width="2.5" height="6.40" rx="1" fill="#bfe7d8"/><rect x="578.42" y="673.30" width="2.5" height="10.80" rx="1" fill="#bfe7d8"/><rect x="578.42" y="688.00" width="2.5" height="6.40" rx="1" fill="#bfe7d8"/><rect x="585.15" y="686.00" width="2.5" height="8.40" rx="1" fill="#bfe7d8"/><rect x="591.88" y="681.60" width="2.5" height="12.80" rx="1" fill="#bfe7d8"/><rect x="598.60" y="672.30" width="2.5" height="5.90" rx="1" fill="#bfe7d8"/><rect x="598.60" y="682.10" width="2.5" height="12.30" rx="1" fill="#bfe7d8"/><rect x="605.33" y="669.90" width="2.5" height="14.20" rx="1" fill="#bfe7d8"/><rect x="605.33" y="688.00" width="2.5" height="6.40" rx="1" fill="#bfe7d8"/><rect x="612.05" y="675.30" width="2.5" height="8.80" rx="1" fill="#bfe7d8"/><rect x="612.05" y="688.00" width="2.5" height="6.40" rx="1" fill="#bfe7d8"/><rect x="618.77" y="677.70" width="2.5" height="16.70" rx="1" fill="#bfe7d8"/><rect x="625.50" y="685.00" width="2.5" height="9.40" rx="1" fill="#bfe7d8"/><rect x="632.23" y="673.30" width="2.5" height="10.80" rx="1" fill="#bfe7d8"/><rect x="632.23" y="688.00" width="2.5" height="6.40" rx="1" fill="#bfe7d8"/><rect x="638.95" y="668.20" width="2.5" height="5.60" rx="1" fill="#bfe7d8"/><rect x="638.95" y="678.20" width="2.5" height="16.20" rx="1" fill="#bfe7d8"/><rect x="645.67" y="668.90" width="2.5" height="13.70" rx="1" fill="#bfe7d8"/><rect x="645.67" y="686.50" width="2.5" height="7.90" rx="1" fill="#bfe7d8"/><rect x="652.40" y="674.30" width="2.5" height="7.80" rx="1" fill="#bfe7d8"/><rect x="652.40" y="686.00" width="2.5" height="8.40" rx="1" fill="#bfe7d8"/><rect x="659.12" y="684.10" width="2.5" height="10.30" rx="1" fill="#bfe7d8"/><rect x="665.85" y="688.00" width="2.5" height="6.40" rx="1" fill="#bfe7d8"/><rect x="672.58" y="669.40" width="2.5" height="14.70" rx="1" fill="#bfe7d8"/><rect x="672.58" y="688.00" width="2.5" height="6.40" rx="1" fill="#bfe7d8"/><rect x="679.30" y="676.30" width="2.5" height="5.30" rx="1" fill="#bfe7d8"/><rect x="679.30" y="685.00" width="2.5" height="9.40" rx="1" fill="#bfe7d8"/><rect x="686.03" y="688.00" width="2.5" height="6.40" rx="1" fill="#bfe7d8"/><rect x="692.75" y="673.30" width="2.5" height="10.80" rx="1" fill="#bfe7d8"/><rect x="692.75" y="688.00" width="2.5" height="6.40" rx="1" fill="#bfe7d8"/><rect x="699.48" y="673.30" width="2.5" height="5.90" rx="1" fill="#bfe7d8"/><rect x="699.48" y="683.60" width="2.5" height="10.80" rx="1" fill="#bfe7d8"/><rect x="706.20" y="675.80" width="2.5" height="8.30" rx="1" fill="#bfe7d8"/><rect x="706.20" y="688.00" width="2.5" height="6.40" rx="1" fill="#bfe7d8"/><rect x="712.92" y="660.10" width="2.5" height="18.10" rx="1" fill="#bfe7d8"/><rect x="712.92" y="682.60" width="2.5" height="11.80" rx="1" fill="#bfe7d8"/><rect x="719.65" y="667.50" width="2.5" height="5.80" rx="1" fill="#bfe7d8"/><rect x="719.65" y="677.70" width="2.5" height="16.70" rx="1" fill="#bfe7d8"/><rect x="726.38" y="668.40" width="2.5" height="15.70" rx="1" fill="#bfe7d8"/><rect x="726.38" y="688.00" width="2.5" height="6.40" rx="1" fill="#bfe7d8"/><rect x="733.10" y="660.10" width="2.5" height="15.70" rx="1" fill="#bfe7d8"/><rect x="733.10" y="679.20" width="2.5" height="15.20" rx="1" fill="#bfe7d8"/><rect x="739.83" y="688.00" width="2.5" height="6.40" rx="1" fill="#bfe7d8"/><rect x="746.55" y="673.30" width="2.5" height="10.80" rx="1" fill="#bfe7d8"/><rect x="746.55" y="688.00" width="2.5" height="6.40" rx="1" fill="#bfe7d8"/><rect x="753.27" y="676.30" width="2.5" height="5.80" rx="1" fill="#bfe7d8"/><rect x="753.27" y="686.00" width="2.5" height="8.40" rx="1" fill="#bfe7d8"/><rect x="760.00" y="660.10" width="2.5" height="15.70" rx="1" fill="#bfe7d8"/><rect x="760.00" y="679.20" width="2.5" height="15.20" rx="1" fill="#bfe7d8"/><rect x="766.73" y="663.10" width="2.5" height="5.80" rx="1" fill="#bfe7d8"/><rect x="766.73" y="673.30" width="2.5" height="21.10" rx="1" fill="#bfe7d8"/><rect x="773.45" y="667.30" width="2.5" height="16.80" rx="1" fill="#bfe7d8"/><rect x="773.45" y="688.00" width="2.5" height="6.40" rx="1" fill="#bfe7d8"/><rect x="780.17" y="673.30" width="2.5" height="10.80" rx="1" fill="#bfe7d8"/><rect x="780.17" y="688.00" width="2.5" height="6.40" rx="1" fill="#bfe7d8"/><rect x="786.90" y="679.20" width="2.5" height="15.20" rx="1" fill="#bfe7d8"/><rect x="793.62" y="679.20" width="2.5" height="15.20" rx="1" fill="#bfe7d8"/><rect x="800.35" y="673.30" width="2.5" height="10.80" rx="1" fill="#bfe7d8"/><rect x="800.35" y="688.00" width="2.5" height="6.40" rx="1" fill="#bfe7d8"/><rect x="807.08" y="667.50" width="2.5" height="16.60" rx="1" fill="#bfe7d8"/><rect x="807.08" y="688.00" width="2.5" height="6.40" rx="1" fill="#bfe7d8"/><rect x="813.80" y="660.10" width="2.5" height="15.20" rx="1" fill="#bfe7d8"/><rect x="813.80" y="679.20" width="2.5" height="15.20" rx="1" fill="#bfe7d8"/><rect x="820.52" y="676.30" width="2.5" height="5.80" rx="1" fill="#bfe7d8"/><rect x="820.52" y="686.00" width="2.5" height="8.40" rx="1" fill="#bfe7d8"/><rect x="827.25" y="673.30" width="2.5" height="10.80" rx="1" fill="#bfe7d8"/><rect x="827.25" y="688.00" width="2.5" height="6.40" rx="1" fill="#bfe7d8"/><rect x="833.98" y="688.00" width="2.5" height="6.40" rx="1" fill="#bfe7d8"/><rect x="840.70" y="660.10" width="2.5" height="15.70" rx="1" fill="#bfe7d8"/><rect x="840.70" y="679.20" width="2.5" height="15.20" rx="1" fill="#bfe7d8"/><rect x="847.42" y="668.00" width="2.5" height="16.10" rx="1" fill="#bfe7d8"/><rect x="847.42" y="688.00" width="2.5" height="6.40" rx="1" fill="#bfe7d8"/><rect x="854.15" y="675.30" width="2.5" height="8.80" rx="1" fill="#bfe7d8"/><rect x="854.15" y="688.00" width="2.5" height="6.40" rx="1" fill="#bfe7d8"/><rect x="860.88" y="673.30" width="2.5" height="5.90" rx="1" fill="#bfe7d8"/><rect x="860.88" y="683.60" width="2.5" height="10.80" rx="1" fill="#bfe7d8"/><rect x="867.60" y="673.30" width="2.5" height="10.80" rx="1" fill="#bfe7d8"/><rect x="867.60" y="688.00" width="2.5" height="6.40" rx="1" fill="#bfe7d8"/><rect x="874.33" y="688.00" width="2.5" height="6.40" rx="1" fill="#bfe7d8"/><rect x="881.05" y="676.30" width="2.5" height="5.30" rx="1" fill="#bfe7d8"/><rect x="881.05" y="685.00" width="2.5" height="9.40" rx="1" fill="#bfe7d8"/><rect x="887.77" y="669.40" width="2.5" height="14.70" rx="1" fill="#bfe7d8"/><rect x="887.77" y="688.00" width="2.5" height="6.40" rx="1" fill="#bfe7d8"/><rect x="894.50" y="688.00" width="2.5" height="6.40" rx="1" fill="#bfe7d8"/><rect x="901.23" y="684.10" width="2.5" height="10.30" rx="1" fill="#bfe7d8"/><rect x="907.95" y="674.30" width="2.5" height="7.80" rx="1" fill="#bfe7d8"/><rect x="907.95" y="686.00" width="2.5" height="8.40" rx="1" fill="#bfe7d8"/><rect x="914.67" y="685.00" width="2.5" height="9.40" rx="1" fill="#bfe7d8"/><circle cx="647.0" cy="663.8" r="2" fill="#1f8b69"/></svg>
</body></html>
